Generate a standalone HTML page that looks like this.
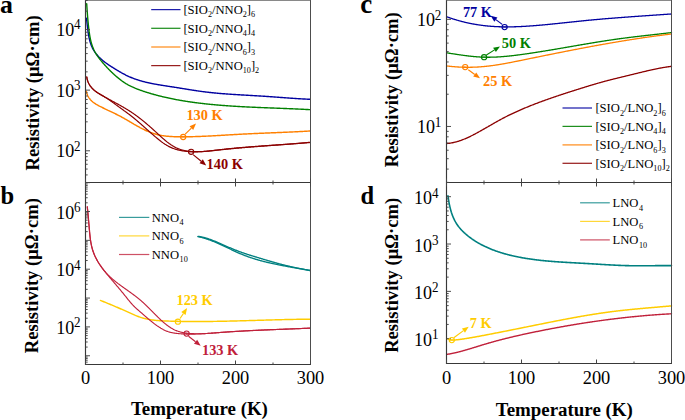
<!DOCTYPE html>
<html><head><meta charset="utf-8"><style>
html,body{margin:0;padding:0;background:#fff;width:685px;height:420px;overflow:hidden}
svg{display:block}
.s{font-family:"Liberation Serif",serif}
</style></head><body>
<svg width="685" height="420" viewBox="0 0 685 420">
<rect width="685" height="420" fill="#fff"/>
<path d="M86.43,18.17 L86.51,18.74 L86.58,19.31 L86.65,19.88 L86.72,20.46 L86.79,21.04 L86.86,21.62 L86.92,22.21 L86.99,22.80 L87.05,23.39 L87.12,23.99 L87.18,24.58 L87.25,25.18 L87.31,25.78 L87.38,26.38 L87.45,26.99 L87.52,27.59 L87.59,28.20 L87.66,28.80 L87.73,29.41 L87.81,30.02 L87.89,30.63 L87.97,31.23 L88.05,31.84 L88.14,32.45 L88.23,33.06 L88.32,33.67 L88.42,34.27 L88.52,34.88 L88.63,35.48 L88.74,36.08 L88.85,36.69 L88.97,37.28 L89.10,37.88 L89.23,38.48 L89.36,39.07 L89.51,39.66 L89.65,40.25 L89.81,40.84 L89.97,41.42 L90.14,42.00 L90.31,42.57 L90.50,43.15 L90.69,43.72 L90.88,44.28 L91.09,44.84 L91.30,45.40 L91.53,45.95 L91.76,46.50 L92.00,47.04 L92.25,47.58 L92.51,48.11 L92.78,48.64 L93.05,49.16 L93.34,49.68 L93.64,50.19 L93.95,50.69 L94.27,51.19 L94.59,51.68 L94.93,52.17 L95.28,52.65 L95.63,53.13 L95.99,53.60 L96.36,54.06 L96.74,54.52 L97.13,54.98 L97.52,55.43 L97.92,55.87 L98.33,56.31 L98.74,56.75 L99.16,57.18 L99.59,57.60 L100.02,58.02 L100.46,58.44 L100.91,58.85 L101.36,59.25 L101.81,59.65 L102.27,60.05 L102.73,60.44 L103.20,60.83 L103.68,61.21 L104.15,61.59 L104.63,61.97 L105.12,62.33 L105.60,62.70 L106.09,63.06 L106.58,63.42 L107.08,63.77 L107.58,64.12 L108.08,64.47 L108.58,64.81 L109.08,65.15 L109.59,65.48 L110.09,65.81 L110.60,66.14 L111.11,66.47 L111.62,66.80 L112.13,67.12 L112.64,67.44 L113.16,67.76 L113.67,68.08 L114.19,68.40 L114.70,68.72 L115.22,69.04 L115.74,69.35 L116.25,69.67 L116.77,69.98 L117.29,70.30 L117.81,70.61 L118.33,70.92 L118.85,71.23 L119.37,71.53 L119.89,71.84 L120.41,72.14 L120.94,72.44 L121.46,72.74 L121.99,73.03 L122.52,73.32 L123.04,73.61 L123.57,73.90 L124.10,74.18 L124.64,74.46 L125.17,74.74 L125.71,75.01 L126.24,75.28 L126.78,75.54 L127.32,75.80 L127.86,76.06 L128.41,76.31 L128.95,76.56 L129.50,76.80 L130.04,77.04 L130.59,77.27 L131.15,77.50 L131.70,77.73 L132.25,77.95 L132.81,78.16 L133.37,78.38 L133.93,78.59 L134.49,78.79 L135.05,79.00 L135.61,79.19 L136.17,79.39 L136.74,79.58 L137.31,79.77 L137.88,79.95 L138.45,80.13 L139.02,80.31 L139.59,80.48 L140.16,80.65 L140.74,80.82 L141.31,80.98 L141.89,81.15 L142.47,81.31 L143.04,81.46 L143.62,81.61 L144.20,81.76 L144.79,81.91 L145.37,82.06 L145.95,82.20 L146.54,82.34 L147.12,82.48 L147.71,82.61 L148.29,82.74 L148.88,82.87 L149.47,83.00 L150.06,83.13 L150.65,83.25 L151.24,83.37 L151.83,83.49 L152.42,83.61 L153.02,83.73 L153.61,83.84 L154.20,83.95 L154.80,84.07 L155.39,84.18 L155.99,84.28 L156.58,84.39 L157.18,84.50 L157.78,84.60 L158.37,84.70 L158.97,84.80 L159.57,84.90 L160.17,85.00 L160.76,85.10 L161.36,85.20 L161.96,85.30 L162.56,85.39 L163.16,85.49 L163.76,85.58 L164.36,85.68 L164.96,85.77 L165.56,85.86 L166.16,85.95 L166.76,86.05 L167.35,86.14 L167.95,86.23 L168.55,86.32 L169.15,86.41 L169.75,86.50 L170.35,86.59 L170.95,86.69 L171.55,86.78 L172.15,86.87 L172.75,86.96 L173.34,87.05 L173.94,87.15 L174.54,87.24 L175.14,87.33 L175.73,87.43 L176.33,87.52 L176.93,87.62 L177.52,87.71 L178.12,87.81 L178.71,87.90 L179.31,88.00 L179.90,88.10 L180.50,88.19 L181.09,88.29 L181.69,88.39 L182.28,88.48 L182.88,88.58 L183.47,88.68 L184.06,88.77 L184.66,88.87 L185.25,88.97 L185.84,89.06 L186.44,89.16 L187.03,89.26 L187.62,89.35 L188.22,89.45 L188.81,89.54 L189.40,89.64 L190.00,89.73 L190.59,89.83 L191.18,89.92 L191.77,90.02 L192.37,90.11 L192.96,90.20 L193.55,90.29 L194.15,90.38 L194.74,90.47 L195.33,90.56 L195.93,90.65 L196.52,90.74 L197.11,90.83 L197.71,90.92 L198.30,91.00 L198.89,91.09 L199.49,91.17 L200.08,91.26 L200.68,91.34 L201.27,91.42 L201.86,91.50 L202.46,91.58 L203.05,91.66 L203.65,91.73 L204.25,91.81 L204.84,91.88 L205.44,91.96 L206.03,92.03 L206.63,92.10 L207.23,92.17 L207.82,92.24 L208.42,92.31 L209.02,92.37 L209.61,92.44 L210.21,92.51 L210.81,92.57 L211.41,92.63 L212.01,92.70 L212.60,92.76 L213.20,92.82 L213.80,92.88 L214.40,92.94 L215.00,92.99 L215.60,93.05 L216.20,93.11 L216.80,93.16 L217.40,93.22 L218.00,93.27 L218.60,93.33 L219.20,93.38 L219.80,93.43 L220.40,93.48 L221.00,93.53 L221.60,93.58 L222.20,93.63 L222.80,93.68 L223.40,93.72 L224.00,93.77 L224.60,93.82 L225.20,93.86 L225.80,93.91 L226.41,93.95 L227.01,94.00 L227.61,94.04 L228.21,94.08 L228.81,94.13 L229.41,94.17 L230.02,94.21 L230.62,94.25 L231.22,94.29 L231.82,94.33 L232.42,94.37 L233.03,94.41 L233.63,94.45 L234.23,94.49 L234.83,94.53 L235.44,94.56 L236.04,94.60 L236.64,94.64 L237.24,94.67 L237.85,94.71 L238.45,94.75 L239.05,94.78 L239.65,94.82 L240.26,94.86 L240.86,94.89 L241.46,94.93 L242.07,94.96 L242.67,95.00 L243.27,95.03 L243.87,95.07 L244.48,95.10 L245.08,95.14 L245.68,95.17 L246.29,95.20 L246.89,95.24 L247.49,95.27 L248.09,95.31 L248.70,95.34 L249.30,95.38 L249.90,95.41 L250.51,95.44 L251.11,95.48 L251.71,95.51 L252.31,95.55 L252.92,95.58 L253.52,95.62 L254.12,95.65 L254.72,95.69 L255.33,95.72 L255.93,95.76 L256.53,95.79 L257.13,95.83 L257.73,95.87 L258.34,95.90 L258.94,95.94 L259.54,95.97 L260.14,96.01 L260.74,96.05 L261.34,96.09 L261.95,96.13 L262.55,96.16 L263.15,96.20 L263.75,96.24 L264.35,96.28 L264.95,96.32 L265.55,96.36 L266.15,96.40 L266.75,96.44 L267.35,96.48 L267.95,96.53 L268.55,96.57 L269.15,96.61 L269.75,96.65 L270.35,96.69 L270.95,96.74 L271.55,96.78 L272.15,96.82 L272.75,96.87 L273.35,96.91 L273.95,96.95 L274.55,97.00 L275.15,97.04 L275.75,97.09 L276.35,97.13 L276.95,97.17 L277.55,97.22 L278.15,97.26 L278.75,97.31 L279.35,97.35 L279.95,97.40 L280.55,97.44 L281.15,97.48 L281.75,97.53 L282.35,97.57 L282.95,97.62 L283.55,97.66 L284.15,97.71 L284.75,97.75 L285.35,97.79 L285.95,97.84 L286.55,97.88 L287.15,97.92 L287.74,97.97 L288.34,98.01 L288.94,98.05 L289.54,98.09 L290.14,98.14 L290.74,98.18 L291.34,98.22 L291.95,98.26 L292.55,98.30 L293.15,98.34 L293.75,98.38 L294.35,98.42 L294.95,98.46 L295.55,98.50 L296.15,98.54 L296.75,98.58 L297.35,98.62 L297.95,98.65 L298.55,98.69 L299.15,98.73 L299.76,98.76 L300.36,98.80 L300.96,98.83 L301.56,98.87 L302.16,98.90 L302.77,98.93 L303.37,98.97 L303.97,99.00 L304.57,99.03 L305.18,99.06 L305.78,99.09 L306.38,99.12 L306.99,99.15 L307.59,99.18 L308.19,99.21 L308.80,99.23 L309.40,99.26 L310.00,99.28" fill="none" stroke="#0000a0" stroke-width="1.40" stroke-linejoin="round" stroke-linecap="round" />
<path d="M86.70,3.81 L86.74,4.41 L86.77,5.01 L86.81,5.61 L86.85,6.22 L86.89,6.82 L86.93,7.42 L86.97,8.02 L87.01,8.62 L87.05,9.21 L87.09,9.81 L87.13,10.41 L87.17,11.01 L87.21,11.61 L87.26,12.20 L87.30,12.80 L87.35,13.40 L87.39,14.00 L87.44,14.59 L87.49,15.19 L87.53,15.79 L87.58,16.38 L87.63,16.98 L87.68,17.58 L87.73,18.17 L87.79,18.77 L87.84,19.37 L87.89,19.96 L87.95,20.56 L88.00,21.16 L88.06,21.76 L88.12,22.36 L88.18,22.95 L88.24,23.55 L88.30,24.15 L88.36,24.75 L88.43,25.35 L88.49,25.95 L88.56,26.55 L88.63,27.15 L88.69,27.76 L88.76,28.36 L88.83,28.96 L88.91,29.57 L88.98,30.17 L89.06,30.77 L89.13,31.38 L89.22,31.98 L89.30,32.59 L89.38,33.19 L89.47,33.80 L89.56,34.40 L89.66,35.00 L89.75,35.60 L89.86,36.20 L89.96,36.80 L90.07,37.40 L90.19,38.00 L90.30,38.59 L90.43,39.19 L90.56,39.78 L90.69,40.37 L90.83,40.96 L90.97,41.54 L91.12,42.12 L91.28,42.71 L91.44,43.28 L91.61,43.86 L91.79,44.43 L91.97,45.00 L92.16,45.57 L92.36,46.13 L92.56,46.69 L92.77,47.24 L92.99,47.79 L93.22,48.34 L93.45,48.89 L93.70,49.42 L93.95,49.96 L94.21,50.49 L94.48,51.02 L94.76,51.54 L95.04,52.06 L95.34,52.58 L95.64,53.09 L95.94,53.60 L96.26,54.10 L96.58,54.60 L96.90,55.10 L97.23,55.60 L97.57,56.09 L97.91,56.58 L98.26,57.06 L98.62,57.55 L98.98,58.03 L99.34,58.51 L99.71,58.98 L100.08,59.46 L100.45,59.93 L100.83,60.40 L101.21,60.87 L101.60,61.33 L101.99,61.79 L102.38,62.26 L102.77,62.72 L103.17,63.18 L103.56,63.63 L103.96,64.09 L104.36,64.54 L104.77,65.00 L105.17,65.45 L105.58,65.90 L105.99,66.35 L106.40,66.80 L106.81,67.24 L107.22,67.69 L107.64,68.13 L108.06,68.57 L108.47,69.01 L108.90,69.44 L109.32,69.88 L109.74,70.31 L110.17,70.74 L110.60,71.17 L111.03,71.59 L111.47,72.01 L111.90,72.43 L112.34,72.85 L112.78,73.27 L113.22,73.68 L113.66,74.09 L114.11,74.50 L114.56,74.90 L115.00,75.30 L115.46,75.70 L115.91,76.10 L116.37,76.49 L116.83,76.88 L117.29,77.27 L117.75,77.65 L118.21,78.03 L118.68,78.41 L119.15,78.78 L119.62,79.15 L120.10,79.52 L120.57,79.88 L121.05,80.24 L121.53,80.60 L122.02,80.95 L122.50,81.30 L122.99,81.64 L123.48,81.98 L123.98,82.32 L124.47,82.65 L124.97,82.97 L125.48,83.29 L125.98,83.61 L126.49,83.92 L127.01,84.22 L127.52,84.52 L128.04,84.82 L128.56,85.10 L129.09,85.39 L129.62,85.66 L130.15,85.94 L130.68,86.20 L131.22,86.47 L131.76,86.72 L132.30,86.98 L132.85,87.22 L133.40,87.47 L133.95,87.71 L134.50,87.94 L135.05,88.18 L135.61,88.40 L136.17,88.63 L136.73,88.85 L137.29,89.07 L137.85,89.28 L138.42,89.50 L138.99,89.70 L139.55,89.91 L140.12,90.12 L140.69,90.32 L141.26,90.52 L141.83,90.71 L142.40,90.91 L142.98,91.10 L143.55,91.30 L144.12,91.49 L144.70,91.67 L145.27,91.86 L145.85,92.05 L146.42,92.23 L147.00,92.41 L147.58,92.59 L148.16,92.77 L148.73,92.95 L149.31,93.12 L149.89,93.29 L150.47,93.47 L151.05,93.64 L151.63,93.80 L152.21,93.97 L152.79,94.14 L153.38,94.30 L153.96,94.46 L154.54,94.62 L155.12,94.78 L155.71,94.94 L156.29,95.10 L156.87,95.25 L157.46,95.40 L158.04,95.56 L158.63,95.71 L159.21,95.85 L159.80,96.00 L160.38,96.15 L160.97,96.29 L161.55,96.44 L162.14,96.58 L162.72,96.72 L163.31,96.86 L163.90,97.00 L164.48,97.13 L165.07,97.27 L165.66,97.40 L166.25,97.54 L166.83,97.67 L167.42,97.80 L168.01,97.93 L168.60,98.05 L169.19,98.18 L169.78,98.30 L170.36,98.43 L170.95,98.55 L171.54,98.67 L172.13,98.79 L172.72,98.91 L173.31,99.03 L173.90,99.14 L174.50,99.26 L175.09,99.37 L175.68,99.49 L176.27,99.60 L176.86,99.71 L177.45,99.82 L178.04,99.93 L178.64,100.03 L179.23,100.14 L179.82,100.24 L180.41,100.35 L181.01,100.45 L181.60,100.55 L182.19,100.65 L182.78,100.75 L183.38,100.85 L183.97,100.95 L184.56,101.04 L185.16,101.14 L185.75,101.23 L186.35,101.33 L186.94,101.42 L187.54,101.51 L188.13,101.60 L188.73,101.69 L189.32,101.78 L189.92,101.86 L190.51,101.95 L191.11,102.04 L191.70,102.12 L192.30,102.20 L192.89,102.29 L193.49,102.37 L194.08,102.45 L194.68,102.53 L195.28,102.61 L195.87,102.69 L196.47,102.76 L197.07,102.84 L197.66,102.92 L198.26,102.99 L198.86,103.07 L199.45,103.14 L200.05,103.21 L200.65,103.28 L201.25,103.35 L201.84,103.42 L202.44,103.49 L203.04,103.56 L203.64,103.63 L204.23,103.70 L204.83,103.76 L205.43,103.83 L206.03,103.89 L206.63,103.96 L207.22,104.02 L207.82,104.08 L208.42,104.15 L209.02,104.21 L209.62,104.27 L210.22,104.33 L210.81,104.39 L211.41,104.44 L212.01,104.50 L212.61,104.56 L213.21,104.62 L213.81,104.67 L214.41,104.73 L215.01,104.78 L215.61,104.84 L216.20,104.89 L216.80,104.94 L217.40,104.99 L218.00,105.05 L218.60,105.10 L219.20,105.15 L219.80,105.20 L220.40,105.25 L221.00,105.29 L221.60,105.34 L222.20,105.39 L222.80,105.44 L223.40,105.48 L224.00,105.53 L224.60,105.57 L225.20,105.62 L225.80,105.66 L226.40,105.71 L227.00,105.75 L227.60,105.79 L228.20,105.83 L228.80,105.88 L229.40,105.92 L230.00,105.96 L230.61,106.00 L231.21,106.04 L231.81,106.08 L232.41,106.12 L233.01,106.16 L233.61,106.19 L234.21,106.23 L234.81,106.27 L235.41,106.30 L236.01,106.34 L236.61,106.38 L237.22,106.41 L237.82,106.45 L238.42,106.48 L239.02,106.52 L239.62,106.55 L240.22,106.58 L240.82,106.62 L241.42,106.65 L242.03,106.68 L242.63,106.72 L243.23,106.75 L243.83,106.78 L244.43,106.81 L245.03,106.84 L245.64,106.87 L246.24,106.90 L246.84,106.93 L247.44,106.96 L248.04,106.99 L248.64,107.02 L249.25,107.05 L249.85,107.08 L250.45,107.11 L251.05,107.13 L251.65,107.16 L252.25,107.19 L252.86,107.22 L253.46,107.24 L254.06,107.27 L254.66,107.30 L255.26,107.32 L255.87,107.35 L256.47,107.38 L257.07,107.40 L257.67,107.43 L258.27,107.45 L258.88,107.48 L259.48,107.50 L260.08,107.53 L260.68,107.55 L261.28,107.58 L261.89,107.60 L262.49,107.63 L263.09,107.65 L263.69,107.67 L264.29,107.70 L264.90,107.72 L265.50,107.75 L266.10,107.77 L266.70,107.79 L267.30,107.82 L267.91,107.84 L268.51,107.86 L269.11,107.89 L269.71,107.91 L270.31,107.93 L270.92,107.96 L271.52,107.98 L272.12,108.00 L272.72,108.03 L273.32,108.05 L273.93,108.07 L274.53,108.09 L275.13,108.12 L275.73,108.14 L276.33,108.16 L276.94,108.19 L277.54,108.21 L278.14,108.23 L278.74,108.26 L279.34,108.28 L279.94,108.30 L280.55,108.33 L281.15,108.35 L281.75,108.37 L282.35,108.40 L282.95,108.42 L283.55,108.44 L284.16,108.47 L284.76,108.49 L285.36,108.51 L285.96,108.54 L286.56,108.56 L287.16,108.59 L287.77,108.61 L288.37,108.64 L288.97,108.66 L289.57,108.68 L290.17,108.71 L290.77,108.73 L291.37,108.76 L291.97,108.79 L292.58,108.81 L293.18,108.84 L293.78,108.86 L294.38,108.89 L294.98,108.92 L295.58,108.94 L296.18,108.97 L296.78,109.00 L297.38,109.02 L297.98,109.05 L298.58,109.08 L299.19,109.11 L299.79,109.13 L300.39,109.16 L300.99,109.19 L301.59,109.22 L302.19,109.25 L302.79,109.28 L303.39,109.31 L303.99,109.34 L304.59,109.37 L305.19,109.40 L305.79,109.43 L306.39,109.46 L306.99,109.50 L307.59,109.53 L308.19,109.56 L308.79,109.59 L309.39,109.63 L309.99,109.66" fill="none" stroke="#008000" stroke-width="1.40" stroke-linejoin="round" stroke-linecap="round" />
<path d="M86.43,91.35 L86.55,91.98 L86.69,92.60 L86.85,93.21 L87.03,93.80 L87.23,94.39 L87.46,94.95 L87.70,95.51 L87.96,96.05 L88.25,96.58 L88.55,97.09 L88.86,97.60 L89.20,98.09 L89.55,98.57 L89.91,99.03 L90.29,99.49 L90.69,99.93 L91.10,100.36 L91.52,100.77 L91.95,101.18 L92.40,101.57 L92.85,101.95 L93.32,102.32 L93.80,102.68 L94.28,103.03 L94.78,103.36 L95.28,103.69 L95.79,104.02 L96.30,104.33 L96.82,104.64 L97.35,104.94 L97.87,105.24 L98.41,105.53 L98.94,105.82 L99.48,106.10 L100.01,106.38 L100.55,106.65 L101.09,106.93 L101.63,107.20 L102.17,107.47 L102.71,107.74 L103.25,108.00 L103.79,108.27 L104.33,108.53 L104.88,108.79 L105.42,109.05 L105.96,109.31 L106.50,109.57 L107.05,109.83 L107.59,110.09 L108.13,110.35 L108.68,110.60 L109.22,110.86 L109.76,111.12 L110.31,111.38 L110.85,111.64 L111.39,111.89 L111.94,112.15 L112.48,112.41 L113.02,112.67 L113.56,112.93 L114.10,113.20 L114.64,113.46 L115.18,113.72 L115.72,113.99 L116.26,114.25 L116.80,114.52 L117.34,114.79 L117.87,115.06 L118.41,115.33 L118.94,115.61 L119.48,115.89 L120.01,116.16 L120.54,116.45 L121.07,116.73 L121.60,117.01 L122.13,117.30 L122.66,117.59 L123.18,117.88 L123.71,118.18 L124.23,118.47 L124.76,118.77 L125.28,119.07 L125.80,119.37 L126.32,119.67 L126.84,119.97 L127.37,120.28 L127.89,120.58 L128.41,120.89 L128.93,121.20 L129.45,121.50 L129.97,121.81 L130.49,122.12 L131.01,122.42 L131.53,122.73 L132.05,123.04 L132.57,123.34 L133.09,123.65 L133.61,123.95 L134.13,124.26 L134.66,124.56 L135.18,124.86 L135.70,125.17 L136.23,125.47 L136.76,125.76 L137.28,126.06 L137.81,126.36 L138.34,126.65 L138.87,126.94 L139.40,127.23 L139.93,127.52 L140.47,127.80 L141.00,128.08 L141.54,128.36 L142.07,128.64 L142.61,128.91 L143.15,129.18 L143.69,129.45 L144.23,129.71 L144.78,129.97 L145.32,130.23 L145.87,130.48 L146.42,130.73 L146.97,130.97 L147.52,131.21 L148.07,131.45 L148.62,131.68 L149.18,131.91 L149.73,132.13 L150.29,132.35 L150.85,132.56 L151.42,132.77 L151.98,132.97 L152.55,133.17 L153.11,133.36 L153.68,133.55 L154.26,133.73 L154.83,133.90 L155.41,134.07 L155.98,134.23 L156.56,134.39 L157.15,134.54 L157.73,134.68 L158.32,134.82 L158.90,134.95 L159.49,135.07 L160.08,135.19 L160.68,135.31 L161.27,135.41 L161.87,135.52 L162.46,135.61 L163.06,135.71 L163.66,135.79 L164.26,135.88 L164.86,135.95 L165.47,136.03 L166.07,136.10 L166.67,136.16 L167.28,136.22 L167.88,136.28 L168.49,136.33 L169.09,136.38 L169.70,136.43 L170.30,136.47 L170.91,136.51 L171.51,136.54 L172.12,136.58 L172.72,136.61 L173.33,136.63 L173.93,136.66 L174.54,136.68 L175.14,136.70 L175.74,136.72 L176.35,136.74 L176.95,136.75 L177.55,136.76 L178.15,136.77 L178.75,136.78 L179.35,136.79 L179.96,136.80 L180.56,136.80 L181.16,136.80 L181.76,136.80 L182.36,136.80 L182.96,136.80 L183.56,136.80 L184.16,136.80 L184.76,136.80 L185.36,136.79 L185.97,136.79 L186.57,136.78 L187.17,136.77 L187.77,136.76 L188.37,136.75 L188.97,136.75 L189.57,136.73 L190.17,136.72 L190.78,136.71 L191.38,136.70 L191.98,136.68 L192.58,136.67 L193.18,136.65 L193.78,136.64 L194.39,136.62 L194.99,136.60 L195.59,136.59 L196.19,136.57 L196.79,136.55 L197.39,136.53 L198.00,136.51 L198.60,136.48 L199.20,136.46 L199.80,136.44 L200.40,136.42 L201.01,136.39 L201.61,136.37 L202.21,136.34 L202.81,136.32 L203.41,136.29 L204.02,136.26 L204.62,136.24 L205.22,136.21 L205.82,136.18 L206.42,136.15 L207.03,136.13 L207.63,136.10 L208.23,136.07 L208.83,136.04 L209.44,136.01 L210.04,135.97 L210.64,135.94 L211.24,135.91 L211.84,135.88 L212.45,135.85 L213.05,135.81 L213.65,135.78 L214.25,135.75 L214.86,135.72 L215.46,135.68 L216.06,135.65 L216.66,135.61 L217.27,135.58 L217.87,135.55 L218.47,135.51 L219.07,135.48 L219.68,135.44 L220.28,135.41 L220.88,135.37 L221.48,135.33 L222.09,135.30 L222.69,135.26 L223.29,135.23 L223.89,135.19 L224.50,135.16 L225.10,135.12 L225.70,135.08 L226.30,135.05 L226.90,135.01 L227.51,134.98 L228.11,134.94 L228.71,134.90 L229.31,134.87 L229.92,134.83 L230.52,134.80 L231.12,134.76 L231.72,134.73 L232.33,134.69 L232.93,134.66 L233.53,134.62 L234.13,134.59 L234.74,134.55 L235.34,134.52 L235.94,134.48 L236.54,134.45 L237.15,134.41 L237.75,134.38 L238.35,134.35 L238.95,134.31 L239.55,134.28 L240.16,134.25 L240.76,134.22 L241.36,134.19 L241.96,134.15 L242.57,134.12 L243.17,134.09 L243.77,134.06 L244.37,134.03 L244.97,134.00 L245.58,133.97 L246.18,133.94 L246.78,133.91 L247.38,133.88 L247.98,133.85 L248.59,133.82 L249.19,133.79 L249.79,133.77 L250.39,133.74 L250.99,133.71 L251.60,133.68 L252.20,133.65 L252.80,133.63 L253.40,133.60 L254.00,133.57 L254.61,133.55 L255.21,133.52 L255.81,133.49 L256.41,133.47 L257.01,133.44 L257.62,133.41 L258.22,133.39 L258.82,133.36 L259.42,133.34 L260.02,133.31 L260.63,133.29 L261.23,133.26 L261.83,133.23 L262.43,133.21 L263.03,133.18 L263.63,133.16 L264.24,133.13 L264.84,133.11 L265.44,133.08 L266.04,133.06 L266.64,133.04 L267.25,133.01 L267.85,132.99 L268.45,132.96 L269.05,132.94 L269.65,132.91 L270.26,132.89 L270.86,132.86 L271.46,132.84 L272.06,132.81 L272.66,132.79 L273.26,132.76 L273.87,132.74 L274.47,132.71 L275.07,132.69 L275.67,132.67 L276.27,132.64 L276.88,132.62 L277.48,132.59 L278.08,132.57 L278.68,132.54 L279.28,132.52 L279.89,132.49 L280.49,132.47 L281.09,132.44 L281.69,132.41 L282.29,132.39 L282.90,132.36 L283.50,132.34 L284.10,132.31 L284.70,132.29 L285.30,132.26 L285.91,132.23 L286.51,132.21 L287.11,132.18 L287.71,132.15 L288.31,132.13 L288.92,132.10 L289.52,132.07 L290.12,132.04 L290.72,132.02 L291.32,131.99 L291.93,131.96 L292.53,131.93 L293.13,131.90 L293.73,131.88 L294.34,131.85 L294.94,131.82 L295.54,131.79 L296.14,131.76 L296.74,131.73 L297.35,131.70 L297.95,131.67 L298.55,131.64 L299.15,131.61 L299.76,131.58 L300.36,131.54 L300.96,131.51 L301.56,131.48 L302.17,131.45 L302.77,131.41 L303.37,131.38 L303.97,131.35 L304.58,131.31 L305.18,131.28 L305.78,131.25 L306.38,131.21 L306.99,131.18 L307.59,131.14 L308.19,131.11 L308.79,131.07 L309.40,131.03 L310.00,131.00" fill="none" stroke="#ff8000" stroke-width="1.45" stroke-linejoin="round" stroke-linecap="round" />
<path d="M86.77,76.96 L86.87,77.62 L86.98,78.27 L87.12,78.90 L87.27,79.52 L87.45,80.13 L87.64,80.73 L87.84,81.31 L88.07,81.89 L88.31,82.45 L88.56,83.00 L88.83,83.53 L89.12,84.06 L89.42,84.58 L89.73,85.08 L90.06,85.58 L90.40,86.06 L90.75,86.53 L91.12,86.99 L91.49,87.45 L91.88,87.89 L92.28,88.32 L92.69,88.75 L93.11,89.16 L93.53,89.57 L93.97,89.97 L94.42,90.35 L94.87,90.73 L95.33,91.10 L95.80,91.47 L96.28,91.82 L96.76,92.17 L97.25,92.52 L97.74,92.85 L98.24,93.19 L98.74,93.51 L99.25,93.83 L99.77,94.15 L100.28,94.46 L100.80,94.77 L101.32,95.08 L101.85,95.38 L102.38,95.68 L102.91,95.98 L103.44,96.28 L103.97,96.57 L104.50,96.87 L105.03,97.16 L105.56,97.45 L106.09,97.75 L106.63,98.04 L107.16,98.33 L107.69,98.62 L108.23,98.91 L108.76,99.20 L109.29,99.49 L109.83,99.77 L110.36,100.06 L110.89,100.35 L111.43,100.64 L111.96,100.93 L112.49,101.21 L113.02,101.50 L113.56,101.79 L114.09,102.08 L114.62,102.37 L115.15,102.66 L115.68,102.95 L116.21,103.24 L116.74,103.53 L117.27,103.82 L117.80,104.11 L118.33,104.40 L118.86,104.69 L119.39,104.99 L119.91,105.28 L120.44,105.58 L120.96,105.87 L121.49,106.17 L122.01,106.47 L122.53,106.77 L123.05,107.07 L123.57,107.37 L124.09,107.68 L124.61,107.98 L125.13,108.29 L125.64,108.60 L126.16,108.91 L126.67,109.22 L127.18,109.53 L127.69,109.85 L128.20,110.16 L128.71,110.48 L129.22,110.80 L129.72,111.12 L130.22,111.45 L130.73,111.78 L131.23,112.10 L131.72,112.44 L132.22,112.77 L132.72,113.10 L133.21,113.44 L133.70,113.78 L134.19,114.13 L134.68,114.47 L135.17,114.82 L135.66,115.17 L136.14,115.52 L136.62,115.87 L137.10,116.22 L137.59,116.58 L138.06,116.94 L138.54,117.30 L139.02,117.66 L139.49,118.03 L139.97,118.40 L140.44,118.76 L140.91,119.13 L141.38,119.51 L141.85,119.88 L142.32,120.25 L142.79,120.63 L143.26,121.01 L143.72,121.39 L144.19,121.77 L144.65,122.15 L145.11,122.54 L145.58,122.93 L146.04,123.31 L146.50,123.70 L146.96,124.09 L147.42,124.48 L147.87,124.88 L148.33,125.27 L148.79,125.67 L149.25,126.07 L149.70,126.46 L150.16,126.86 L150.61,127.27 L151.06,127.67 L151.52,128.07 L151.97,128.47 L152.42,128.88 L152.88,129.29 L153.33,129.69 L153.78,130.10 L154.23,130.51 L154.68,130.92 L155.13,131.33 L155.58,131.75 L156.04,132.16 L156.49,132.57 L156.94,132.99 L157.39,133.40 L157.84,133.82 L158.29,134.23 L158.74,134.65 L159.19,135.07 L159.64,135.48 L160.09,135.89 L160.54,136.31 L161.00,136.72 L161.45,137.13 L161.91,137.54 L162.36,137.95 L162.82,138.35 L163.28,138.75 L163.74,139.15 L164.20,139.55 L164.67,139.95 L165.13,140.34 L165.60,140.72 L166.07,141.11 L166.54,141.49 L167.01,141.87 L167.49,142.24 L167.96,142.60 L168.44,142.97 L168.93,143.32 L169.41,143.68 L169.90,144.02 L170.39,144.36 L170.88,144.70 L171.38,145.03 L171.88,145.35 L172.38,145.66 L172.89,145.97 L173.40,146.27 L173.91,146.57 L174.42,146.86 L174.94,147.14 L175.47,147.41 L176.00,147.67 L176.53,147.92 L177.07,148.17 L177.61,148.41 L178.15,148.64 L178.70,148.85 L179.25,149.06 L179.81,149.26 L180.37,149.45 L180.94,149.63 L181.51,149.81 L182.09,149.97 L182.66,150.12 L183.25,150.27 L183.83,150.40 L184.42,150.53 L185.01,150.65 L185.60,150.77 L186.19,150.87 L186.79,150.97 L187.39,151.06 L187.99,151.15 L188.59,151.22 L189.19,151.29 L189.79,151.36 L190.39,151.42 L190.99,151.47 L191.60,151.52 L192.20,151.56 L192.80,151.59 L193.40,151.62 L194.01,151.65 L194.61,151.67 L195.21,151.68 L195.81,151.69 L196.42,151.69 L197.02,151.70 L197.62,151.69 L198.22,151.68 L198.83,151.67 L199.43,151.66 L200.03,151.63 L200.63,151.61 L201.24,151.58 L201.84,151.55 L202.44,151.52 L203.04,151.48 L203.65,151.44 L204.25,151.40 L204.85,151.35 L205.46,151.30 L206.06,151.25 L206.66,151.20 L207.26,151.14 L207.87,151.09 L208.47,151.03 L209.07,150.96 L209.67,150.90 L210.28,150.84 L210.88,150.77 L211.48,150.70 L212.08,150.63 L212.68,150.56 L213.29,150.49 L213.89,150.42 L214.49,150.35 L215.09,150.28 L215.69,150.21 L216.30,150.13 L216.90,150.06 L217.50,149.99 L218.10,149.92 L218.70,149.85 L219.31,149.78 L219.91,149.70 L220.51,149.63 L221.11,149.57 L221.71,149.50 L222.31,149.43 L222.91,149.36 L223.52,149.29 L224.12,149.23 L224.72,149.16 L225.32,149.10 L225.92,149.03 L226.52,148.97 L227.12,148.91 L227.72,148.84 L228.32,148.78 L228.92,148.72 L229.52,148.66 L230.13,148.60 L230.73,148.54 L231.33,148.48 L231.93,148.42 L232.53,148.36 L233.13,148.31 L233.73,148.25 L234.33,148.19 L234.93,148.14 L235.53,148.08 L236.13,148.02 L236.73,147.97 L237.33,147.91 L237.93,147.86 L238.53,147.81 L239.13,147.75 L239.73,147.70 L240.33,147.65 L240.93,147.60 L241.53,147.54 L242.13,147.49 L242.73,147.44 L243.33,147.39 L243.93,147.34 L244.53,147.29 L245.13,147.24 L245.73,147.19 L246.33,147.15 L246.93,147.10 L247.53,147.05 L248.13,147.00 L248.73,146.95 L249.33,146.91 L249.93,146.86 L250.53,146.81 L251.13,146.77 L251.73,146.72 L252.33,146.67 L252.93,146.63 L253.53,146.58 L254.13,146.54 L254.73,146.49 L255.33,146.45 L255.93,146.40 L256.53,146.36 L257.12,146.32 L257.72,146.27 L258.32,146.23 L258.92,146.18 L259.52,146.14 L260.12,146.10 L260.72,146.05 L261.32,146.01 L261.92,145.97 L262.52,145.93 L263.12,145.88 L263.72,145.84 L264.32,145.80 L264.92,145.76 L265.52,145.71 L266.12,145.67 L266.72,145.63 L267.32,145.59 L267.92,145.54 L268.52,145.50 L269.12,145.46 L269.72,145.42 L270.32,145.38 L270.92,145.34 L271.52,145.29 L272.12,145.25 L272.72,145.21 L273.32,145.17 L273.92,145.13 L274.52,145.08 L275.12,145.04 L275.72,145.00 L276.32,144.96 L276.92,144.92 L277.52,144.87 L278.12,144.83 L278.72,144.79 L279.32,144.75 L279.92,144.71 L280.52,144.66 L281.12,144.62 L281.72,144.58 L282.32,144.53 L282.92,144.49 L283.52,144.45 L284.12,144.40 L284.72,144.36 L285.32,144.32 L285.93,144.27 L286.53,144.23 L287.13,144.18 L287.73,144.14 L288.33,144.10 L288.93,144.05 L289.53,144.01 L290.13,143.96 L290.73,143.91 L291.33,143.87 L291.93,143.82 L292.54,143.78 L293.14,143.73 L293.74,143.68 L294.34,143.64 L294.94,143.59 L295.54,143.54 L296.15,143.49 L296.75,143.44 L297.35,143.40 L297.95,143.35 L298.55,143.30 L299.15,143.25 L299.76,143.20 L300.36,143.15 L300.96,143.10 L301.56,143.04 L302.17,142.99 L302.77,142.94 L303.37,142.89 L303.97,142.84 L304.58,142.78 L305.18,142.73 L305.78,142.68 L306.38,142.62 L306.99,142.57 L307.59,142.51 L308.19,142.45 L308.80,142.40 L309.40,142.34 L310.00,142.28" fill="none" stroke="#8b0000" stroke-width="1.20" stroke-linejoin="round" stroke-linecap="round" />
<path d="M86.79,76.99 L86.89,77.63 L87.00,78.26 L87.14,78.88 L87.29,79.48 L87.46,80.08 L87.64,80.67 L87.84,81.25 L88.06,81.83 L88.29,82.39 L88.54,82.94 L88.81,83.48 L89.09,84.01 L89.38,84.53 L89.69,85.04 L90.01,85.55 L90.34,86.04 L90.69,86.52 L91.05,86.99 L91.43,87.45 L91.81,87.90 L92.21,88.34 L92.62,88.76 L93.04,89.18 L93.47,89.59 L93.91,89.98 L94.37,90.37 L94.83,90.74 L95.30,91.11 L95.78,91.46 L96.26,91.81 L96.76,92.15 L97.26,92.48 L97.76,92.81 L98.27,93.13 L98.79,93.44 L99.31,93.75 L99.83,94.06 L100.35,94.37 L100.87,94.67 L101.40,94.98 L101.93,95.28 L102.45,95.59 L102.97,95.89 L103.49,96.20 L104.01,96.51 L104.53,96.82 L105.04,97.14 L105.55,97.45 L106.06,97.78 L106.56,98.10 L107.06,98.43 L107.56,98.76 L108.06,99.09 L108.55,99.43 L109.05,99.77 L109.54,100.11 L110.03,100.45 L110.51,100.79 L111.00,101.14 L111.49,101.48 L111.97,101.83 L112.45,102.18 L112.93,102.53 L113.42,102.88 L113.90,103.23 L114.38,103.58 L114.86,103.94 L115.34,104.29 L115.82,104.64 L116.30,105.00 L116.79,105.35 L117.27,105.71 L117.75,106.06 L118.24,106.41 L118.72,106.77 L119.21,107.12 L119.69,107.47 L120.18,107.82 L120.67,108.18 L121.16,108.53 L121.64,108.88 L122.13,109.23 L122.62,109.59 L123.11,109.94 L123.60,110.29 L124.08,110.65 L124.57,111.00 L125.06,111.36 L125.55,111.72 L126.03,112.07 L126.52,112.43 L127.00,112.79 L127.49,113.15 L127.97,113.51 L128.45,113.87 L128.93,114.24 L129.41,114.60 L129.89,114.97 L130.37,115.33 L130.85,115.70 L131.32,116.07 L131.80,116.45 L132.27,116.82 L132.74,117.20 L133.20,117.57 L133.67,117.95 L134.14,118.33 L134.60,118.71 L135.07,119.09 L135.53,119.48 L135.99,119.86 L136.45,120.25 L136.91,120.64 L137.36,121.03 L137.82,121.42 L138.28,121.81 L138.73,122.20 L139.18,122.59 L139.64,122.98 L140.09,123.38 L140.54,123.77 L140.99,124.17 L141.44,124.56 L141.89,124.96 L142.34,125.36 L142.79,125.76 L143.24,126.15 L143.69,126.55 L144.14,126.95 L144.59,127.35 L145.04,127.75 L145.49,128.15 L145.93,128.55 L146.38,128.95 L146.83,129.35 L147.28,129.75 L147.73,130.15 L148.18,130.55 L148.63,130.94 L149.08,131.34 L149.53,131.74 L149.98,132.14 L150.43,132.54 L150.88,132.94 L151.33,133.33 L151.79,133.73 L152.24,134.13 L152.70,134.52 L153.15,134.91 L153.61,135.31 L154.07,135.70 L154.52,136.09 L154.98,136.49 L155.44,136.88 L155.91,137.26 L156.37,137.65 L156.83,138.04 L157.30,138.43 L157.77,138.81 L158.23,139.19 L158.70,139.57 L159.18,139.95 L159.65,140.33 L160.13,140.70 L160.60,141.07 L161.08,141.44 L161.57,141.80 L162.05,142.16 L162.54,142.51 L163.03,142.87 L163.52,143.21 L164.02,143.55 L164.52,143.89 L165.02,144.22 L165.53,144.54 L166.04,144.86 L166.55,145.17 L167.07,145.48 L167.59,145.78 L168.11,146.07 L168.64,146.36 L169.17,146.63 L169.71,146.90 L170.25,147.17 L170.80,147.42 L171.35,147.66 L171.90,147.90 L172.46,148.12 L173.02,148.34 L173.59,148.55 L174.16,148.75 L174.74,148.95 L175.31,149.13 L175.89,149.31 L176.47,149.48 L177.05,149.64 L177.63,149.80 L178.21,149.95 L178.80,150.09 L179.38,150.23 L179.97,150.36 L180.55,150.48 L181.14,150.60 L181.73,150.71 L182.31,150.82 L182.90,150.92 L183.49,151.01 L184.08,151.10 L184.67,151.18 L185.26,151.26 L185.85,151.33 L186.44,151.40 L187.04,151.46 L187.63,151.51 L188.22,151.56 L188.82,151.61 L189.41,151.65 L190.01,151.69 L190.60,151.72 L191.20,151.75 L191.79,151.77 L192.39,151.79 L192.99,151.81 L193.58,151.82 L194.18,151.83 L194.78,151.83 L195.38,151.83 L195.98,151.82 L196.58,151.82 L197.18,151.81 L197.78,151.79 L198.38,151.77 L198.98,151.75 L199.58,151.73 L200.18,151.70 L200.78,151.67 L201.39,151.64 L201.99,151.61 L202.59,151.57 L203.19,151.53 L203.80,151.49 L204.40,151.45 L205.00,151.40 L205.61,151.35 L206.21,151.30 L206.81,151.25 L207.42,151.20 L208.02,151.14 L208.62,151.08 L209.23,151.03 L209.83,150.97 L210.43,150.91 L211.04,150.85 L211.64,150.78 L212.25,150.72 L212.85,150.66 L213.45,150.59 L214.06,150.53 L214.66,150.46 L215.27,150.40 L215.87,150.33 L216.47,150.26 L217.08,150.20 L217.68,150.13 L218.28,150.07 L218.89,150.00 L219.49,149.93 L220.09,149.87 L220.69,149.81 L221.30,149.74 L221.90,149.68 L222.50,149.61 L223.10,149.55 L223.70,149.49 L224.31,149.43 L224.91,149.37 L225.51,149.31 L226.11,149.25 L226.71,149.19 L227.31,149.13 L227.91,149.07 L228.51,149.01 L229.11,148.95 L229.71,148.89 L230.31,148.83 L230.91,148.78 L231.51,148.72 L232.11,148.66 L232.71,148.61 L233.31,148.55 L233.91,148.49 L234.51,148.44 L235.11,148.38 L235.71,148.33 L236.31,148.27 L236.91,148.22 L237.51,148.17 L238.11,148.11 L238.71,148.06 L239.31,148.01 L239.90,147.95 L240.50,147.90 L241.10,147.85 L241.70,147.80 L242.30,147.75 L242.90,147.70 L243.49,147.65 L244.09,147.60 L244.69,147.55 L245.29,147.50 L245.89,147.45 L246.48,147.40 L247.08,147.35 L247.68,147.30 L248.28,147.25 L248.87,147.20 L249.47,147.15 L250.07,147.10 L250.67,147.05 L251.26,147.01 L251.86,146.96 L252.46,146.91 L253.06,146.86 L253.65,146.82 L254.25,146.77 L254.85,146.72 L255.44,146.68 L256.04,146.63 L256.64,146.58 L257.24,146.54 L257.83,146.49 L258.43,146.45 L259.03,146.40 L259.62,146.36 L260.22,146.31 L260.82,146.27 L261.42,146.22 L262.01,146.17 L262.61,146.13 L263.21,146.08 L263.80,146.04 L264.40,146.00 L265.00,145.95 L265.60,145.91 L266.19,145.86 L266.79,145.82 L267.39,145.77 L267.98,145.73 L268.58,145.68 L269.18,145.64 L269.78,145.60 L270.37,145.55 L270.97,145.51 L271.57,145.46 L272.17,145.42 L272.76,145.38 L273.36,145.33 L273.96,145.29 L274.56,145.25 L275.16,145.20 L275.75,145.16 L276.35,145.11 L276.95,145.07 L277.55,145.03 L278.14,144.98 L278.74,144.94 L279.34,144.89 L279.94,144.85 L280.54,144.81 L281.14,144.76 L281.74,144.72 L282.33,144.67 L282.93,144.63 L283.53,144.58 L284.13,144.54 L284.73,144.50 L285.33,144.45 L285.93,144.41 L286.53,144.36 L287.13,144.32 L287.73,144.27 L288.33,144.23 L288.93,144.18 L289.52,144.14 L290.12,144.09 L290.73,144.04 L291.33,144.00 L291.93,143.95 L292.53,143.91 L293.13,143.86 L293.73,143.81 L294.33,143.77 L294.93,143.72 L295.53,143.67 L296.13,143.63 L296.73,143.58 L297.33,143.53 L297.94,143.49 L298.54,143.44 L299.14,143.39 L299.74,143.34 L300.35,143.29 L300.95,143.24 L301.55,143.20 L302.15,143.15 L302.76,143.10 L303.36,143.05 L303.96,143.00 L304.57,142.95 L305.17,142.90 L305.77,142.85 L306.38,142.80 L306.98,142.75 L307.59,142.70 L308.19,142.64 L308.80,142.59 L309.40,142.54 L310.01,142.49" fill="none" stroke="#8b0000" stroke-width="1.20" stroke-linejoin="round" stroke-linecap="round" />
<path d="M198.03,236.37 L198.64,236.45 L199.24,236.54 L199.84,236.63 L200.44,236.74 L201.04,236.85 L201.63,236.96 L202.22,237.09 L202.81,237.22 L203.40,237.36 L203.98,237.50 L204.57,237.65 L205.15,237.81 L205.73,237.98 L206.30,238.15 L206.88,238.32 L207.45,238.50 L208.03,238.69 L208.60,238.88 L209.17,239.07 L209.73,239.27 L210.30,239.48 L210.87,239.68 L211.43,239.90 L211.99,240.11 L212.56,240.33 L213.12,240.55 L213.68,240.78 L214.24,241.00 L214.79,241.24 L215.35,241.47 L215.91,241.70 L216.46,241.94 L217.02,242.18 L217.58,242.42 L218.13,242.66 L218.69,242.90 L219.24,243.15 L219.79,243.39 L220.35,243.64 L220.90,243.88 L221.46,244.13 L222.01,244.37 L222.56,244.62 L223.12,244.86 L223.67,245.10 L224.23,245.35 L224.78,245.59 L225.34,245.83 L225.89,246.07 L226.45,246.31 L227.01,246.55 L227.56,246.79 L228.12,247.03 L228.68,247.27 L229.23,247.50 L229.79,247.74 L230.35,247.97 L230.91,248.20 L231.47,248.44 L232.03,248.67 L232.59,248.90 L233.15,249.13 L233.71,249.35 L234.27,249.58 L234.83,249.80 L235.39,250.03 L235.95,250.25 L236.52,250.47 L237.08,250.69 L237.65,250.90 L238.21,251.12 L238.78,251.33 L239.34,251.55 L239.91,251.76 L240.48,251.97 L241.04,252.17 L241.61,252.38 L242.18,252.58 L242.75,252.78 L243.32,252.98 L243.89,253.18 L244.46,253.38 L245.04,253.57 L245.61,253.76 L246.18,253.95 L246.76,254.14 L247.33,254.33 L247.91,254.52 L248.48,254.70 L249.06,254.89 L249.64,255.07 L250.21,255.25 L250.79,255.43 L251.37,255.61 L251.95,255.79 L252.53,255.97 L253.10,256.15 L253.68,256.32 L254.26,256.50 L254.84,256.68 L255.42,256.85 L256.00,257.02 L256.58,257.20 L257.16,257.37 L257.74,257.55 L258.32,257.72 L258.90,257.89 L259.48,258.07 L260.06,258.24 L260.64,258.41 L261.22,258.59 L261.80,258.76 L262.38,258.93 L262.96,259.11 L263.54,259.28 L264.12,259.45 L264.70,259.63 L265.28,259.80 L265.87,259.97 L266.45,260.14 L267.03,260.31 L267.61,260.49 L268.19,260.66 L268.77,260.83 L269.35,261.00 L269.93,261.17 L270.51,261.34 L271.09,261.51 L271.67,261.67 L272.26,261.84 L272.84,262.01 L273.42,262.17 L274.00,262.34 L274.58,262.50 L275.17,262.67 L275.75,262.83 L276.33,262.99 L276.92,263.15 L277.50,263.31 L278.08,263.47 L278.67,263.63 L279.25,263.78 L279.84,263.94 L280.42,264.09 L281.00,264.25 L281.59,264.40 L282.18,264.55 L282.76,264.70 L283.35,264.85 L283.93,265.00 L284.52,265.14 L285.11,265.29 L285.69,265.43 L286.28,265.58 L286.87,265.72 L287.46,265.86 L288.04,266.00 L288.63,266.14 L289.22,266.28 L289.81,266.41 L290.40,266.55 L290.99,266.68 L291.58,266.82 L292.17,266.95 L292.76,267.08 L293.35,267.21 L293.94,267.34 L294.53,267.46 L295.12,267.59 L295.71,267.71 L296.31,267.84 L296.90,267.96 L297.49,268.08 L298.08,268.20 L298.68,268.32 L299.27,268.44 L299.87,268.55 L300.46,268.67 L301.05,268.78 L301.65,268.90 L302.24,269.01 L302.84,269.12 L303.44,269.23 L304.03,269.34 L304.63,269.44 L305.23,269.55 L305.82,269.65 L306.42,269.76 L307.02,269.86 L307.62,269.96 L308.21,270.06 L308.81,270.16 L309.41,270.26 L310.01,270.36" fill="none" stroke="#008080" stroke-width="1.35" stroke-linejoin="round" stroke-linecap="round" />
<path d="M198.08,236.66 L198.67,236.78 L199.26,236.91 L199.85,237.04 L200.44,237.18 L201.02,237.32 L201.60,237.47 L202.19,237.62 L202.77,237.77 L203.34,237.93 L203.92,238.10 L204.50,238.27 L205.07,238.44 L205.64,238.62 L206.22,238.80 L206.79,238.99 L207.36,239.18 L207.92,239.37 L208.49,239.57 L209.06,239.77 L209.62,239.97 L210.18,240.18 L210.75,240.39 L211.31,240.60 L211.87,240.81 L212.43,241.03 L212.99,241.26 L213.54,241.48 L214.10,241.71 L214.66,241.94 L215.21,242.17 L215.77,242.40 L216.32,242.64 L216.87,242.88 L217.42,243.12 L217.98,243.36 L218.53,243.61 L219.08,243.85 L219.63,244.10 L220.18,244.35 L220.73,244.60 L221.27,244.86 L221.82,245.11 L222.37,245.36 L222.92,245.62 L223.46,245.88 L224.01,246.13 L224.56,246.39 L225.10,246.65 L225.65,246.91 L226.20,247.17 L226.74,247.43 L227.29,247.69 L227.83,247.95 L228.38,248.21 L228.93,248.47 L229.47,248.73 L230.02,248.99 L230.56,249.25 L231.11,249.51 L231.66,249.77 L232.20,250.03 L232.75,250.29 L233.30,250.54 L233.85,250.80 L234.39,251.05 L234.94,251.31 L235.49,251.56 L236.04,251.81 L236.59,252.06 L237.14,252.31 L237.69,252.55 L238.24,252.80 L238.80,253.04 L239.35,253.28 L239.90,253.52 L240.46,253.76 L241.01,253.99 L241.57,254.23 L242.12,254.45 L242.68,254.68 L243.24,254.91 L243.80,255.13 L244.36,255.35 L244.92,255.56 L245.48,255.78 L246.05,255.99 L246.61,256.20 L247.17,256.41 L247.74,256.61 L248.31,256.82 L248.87,257.02 L249.44,257.21 L250.01,257.41 L250.58,257.60 L251.15,257.79 L251.72,257.98 L252.29,258.17 L252.86,258.35 L253.43,258.54 L254.01,258.72 L254.58,258.90 L255.15,259.07 L255.73,259.25 L256.31,259.42 L256.88,259.59 L257.46,259.76 L258.04,259.93 L258.62,260.09 L259.19,260.25 L259.77,260.42 L260.35,260.57 L260.94,260.73 L261.52,260.89 L262.10,261.04 L262.68,261.20 L263.26,261.35 L263.85,261.50 L264.43,261.65 L265.01,261.79 L265.60,261.94 L266.18,262.08 L266.77,262.22 L267.36,262.36 L267.94,262.50 L268.53,262.64 L269.12,262.78 L269.70,262.91 L270.29,263.05 L270.88,263.18 L271.47,263.31 L272.06,263.44 L272.65,263.57 L273.24,263.70 L273.83,263.83 L274.42,263.95 L275.01,264.08 L275.60,264.20 L276.19,264.32 L276.79,264.45 L277.38,264.57 L277.97,264.69 L278.56,264.81 L279.15,264.92 L279.75,265.04 L280.34,265.16 L280.93,265.27 L281.53,265.39 L282.12,265.50 L282.71,265.62 L283.31,265.73 L283.90,265.84 L284.50,265.95 L285.09,266.07 L285.69,266.18 L286.28,266.29 L286.87,266.40 L287.47,266.51 L288.06,266.61 L288.66,266.72 L289.25,266.83 L289.85,266.94 L290.44,267.05 L291.04,267.15 L291.63,267.26 L292.23,267.36 L292.82,267.47 L293.42,267.58 L294.01,267.68 L294.61,267.79 L295.20,267.89 L295.80,268.00 L296.39,268.11 L296.99,268.21 L297.58,268.32 L298.18,268.42 L298.77,268.53 L299.36,268.63 L299.96,268.74 L300.55,268.84 L301.14,268.95 L301.74,269.06 L302.33,269.16 L302.92,269.27 L303.52,269.38 L304.11,269.48 L304.70,269.59 L305.29,269.70 L305.89,269.81 L306.48,269.92 L307.07,270.03 L307.66,270.14 L308.25,270.25 L308.84,270.36 L309.43,270.47 L310.02,270.58" fill="none" stroke="#008080" stroke-width="1.35" stroke-linejoin="round" stroke-linecap="round" />
<path d="M100.40,300.39 L100.97,300.61 L101.53,300.84 L102.09,301.07 L102.65,301.29 L103.21,301.52 L103.77,301.75 L104.33,301.97 L104.89,302.20 L105.45,302.43 L106.01,302.66 L106.56,302.88 L107.12,303.11 L107.68,303.34 L108.23,303.57 L108.79,303.80 L109.34,304.03 L109.90,304.26 L110.45,304.49 L111.00,304.72 L111.56,304.95 L112.11,305.18 L112.66,305.42 L113.22,305.65 L113.77,305.88 L114.32,306.11 L114.87,306.35 L115.42,306.58 L115.97,306.82 L116.53,307.06 L117.08,307.29 L117.63,307.53 L118.18,307.77 L118.73,308.01 L119.28,308.25 L119.84,308.49 L120.39,308.73 L120.94,308.97 L121.49,309.21 L122.04,309.45 L122.60,309.70 L123.15,309.94 L123.70,310.19 L124.25,310.43 L124.81,310.68 L125.36,310.93 L125.91,311.17 L126.47,311.42 L127.02,311.67 L127.58,311.92 L128.13,312.17 L128.68,312.42 L129.24,312.67 L129.80,312.92 L130.35,313.18 L130.91,313.43 L131.46,313.68 L132.02,313.93 L132.58,314.18 L133.14,314.43 L133.70,314.67 L134.26,314.91 L134.82,315.16 L135.38,315.39 L135.94,315.63 L136.51,315.86 L137.07,316.08 L137.64,316.30 L138.20,316.52 L138.77,316.73 L139.34,316.93 L139.91,317.13 L140.48,317.32 L141.06,317.51 L141.63,317.68 L142.21,317.86 L142.78,318.02 L143.36,318.18 L143.94,318.33 L144.52,318.48 L145.10,318.62 L145.69,318.76 L146.27,318.89 L146.85,319.02 L147.44,319.14 L148.03,319.25 L148.61,319.36 L149.20,319.47 L149.79,319.57 L150.38,319.67 L150.97,319.76 L151.56,319.85 L152.16,319.93 L152.75,320.01 L153.35,320.09 L153.94,320.16 L154.54,320.23 L155.13,320.29 L155.73,320.35 L156.33,320.41 L156.92,320.47 L157.52,320.52 L158.12,320.57 L158.72,320.61 L159.32,320.66 L159.92,320.70 L160.52,320.74 L161.12,320.77 L161.72,320.81 L162.33,320.84 L162.93,320.87 L163.53,320.90 L164.13,320.93 L164.74,320.96 L165.34,320.98 L165.94,321.00 L166.54,321.03 L167.15,321.05 L167.75,321.07 L168.35,321.09 L168.96,321.11 L169.56,321.13 L170.16,321.15 L170.77,321.16 L171.37,321.18 L171.97,321.20 L172.58,321.22 L173.18,321.23 L173.78,321.25 L174.39,321.26 L174.99,321.28 L175.59,321.29 L176.20,321.30 L176.80,321.32 L177.40,321.33 L178.01,321.34 L178.61,321.36 L179.21,321.37 L179.82,321.38 L180.42,321.39 L181.02,321.40 L181.62,321.41 L182.23,321.42 L182.83,321.43 L183.43,321.44 L184.04,321.44 L184.64,321.45 L185.24,321.46 L185.85,321.47 L186.45,321.47 L187.05,321.48 L187.66,321.48 L188.26,321.49 L188.86,321.49 L189.46,321.50 L190.07,321.50 L190.67,321.51 L191.27,321.51 L191.88,321.51 L192.48,321.51 L193.08,321.52 L193.68,321.52 L194.29,321.52 L194.89,321.52 L195.49,321.52 L196.10,321.52 L196.70,321.52 L197.30,321.52 L197.91,321.52 L198.51,321.52 L199.11,321.52 L199.71,321.52 L200.32,321.52 L200.92,321.51 L201.52,321.51 L202.13,321.51 L202.73,321.51 L203.33,321.50 L203.93,321.50 L204.54,321.49 L205.14,321.49 L205.74,321.48 L206.35,321.48 L206.95,321.47 L207.55,321.47 L208.15,321.46 L208.76,321.46 L209.36,321.45 L209.96,321.44 L210.56,321.44 L211.17,321.43 L211.77,321.42 L212.37,321.41 L212.98,321.41 L213.58,321.40 L214.18,321.39 L214.78,321.38 L215.39,321.37 L215.99,321.36 L216.59,321.35 L217.19,321.34 L217.80,321.33 L218.40,321.32 L219.00,321.31 L219.61,321.30 L220.21,321.29 L220.81,321.28 L221.41,321.27 L222.02,321.26 L222.62,321.25 L223.22,321.23 L223.82,321.22 L224.43,321.21 L225.03,321.20 L225.63,321.18 L226.23,321.17 L226.84,321.16 L227.44,321.15 L228.04,321.13 L228.65,321.12 L229.25,321.11 L229.85,321.09 L230.45,321.08 L231.06,321.06 L231.66,321.05 L232.26,321.03 L232.86,321.02 L233.47,321.01 L234.07,320.99 L234.67,320.98 L235.27,320.96 L235.88,320.94 L236.48,320.93 L237.08,320.91 L237.68,320.90 L238.29,320.88 L238.89,320.87 L239.49,320.85 L240.10,320.83 L240.70,320.82 L241.30,320.80 L241.90,320.79 L242.51,320.77 L243.11,320.75 L243.71,320.74 L244.31,320.72 L244.92,320.70 L245.52,320.69 L246.12,320.67 L246.72,320.65 L247.33,320.63 L247.93,320.62 L248.53,320.60 L249.13,320.58 L249.74,320.57 L250.34,320.55 L250.94,320.53 L251.54,320.51 L252.15,320.50 L252.75,320.48 L253.35,320.46 L253.95,320.44 L254.56,320.43 L255.16,320.41 L255.76,320.39 L256.37,320.37 L256.97,320.36 L257.57,320.34 L258.17,320.32 L258.78,320.30 L259.38,320.29 L259.98,320.27 L260.58,320.25 L261.19,320.23 L261.79,320.21 L262.39,320.20 L262.99,320.18 L263.60,320.16 L264.20,320.14 L264.80,320.13 L265.40,320.11 L266.01,320.09 L266.61,320.07 L267.21,320.06 L267.81,320.04 L268.42,320.02 L269.02,320.01 L269.62,319.99 L270.22,319.97 L270.83,319.95 L271.43,319.94 L272.03,319.92 L272.63,319.90 L273.24,319.89 L273.84,319.87 L274.44,319.85 L275.04,319.84 L275.65,319.82 L276.25,319.81 L276.85,319.79 L277.46,319.77 L278.06,319.76 L278.66,319.74 L279.26,319.73 L279.87,319.71 L280.47,319.70 L281.07,319.68 L281.67,319.66 L282.28,319.65 L282.88,319.64 L283.48,319.62 L284.08,319.61 L284.69,319.59 L285.29,319.58 L285.89,319.56 L286.49,319.55 L287.10,319.53 L287.70,319.52 L288.30,319.51 L288.91,319.49 L289.51,319.48 L290.11,319.47 L290.71,319.45 L291.32,319.44 L291.92,319.43 L292.52,319.42 L293.12,319.41 L293.73,319.39 L294.33,319.38 L294.93,319.37 L295.53,319.36 L296.14,319.35 L296.74,319.34 L297.34,319.33 L297.95,319.32 L298.55,319.31 L299.15,319.30 L299.75,319.29 L300.36,319.28 L300.96,319.27 L301.56,319.26 L302.16,319.25 L302.77,319.24 L303.37,319.23 L303.97,319.22 L304.58,319.22 L305.18,319.21 L305.78,319.20 L306.38,319.19 L306.99,319.19 L307.59,319.18 L308.19,319.17 L308.80,319.17 L309.40,319.16 L310.00,319.16" fill="none" stroke="#ffcc00" stroke-width="1.45" stroke-linejoin="round" stroke-linecap="round" />
<path d="M87.24,206.74 L87.33,207.32 L87.41,207.90 L87.49,208.49 L87.57,209.07 L87.65,209.66 L87.72,210.25 L87.79,210.84 L87.86,211.43 L87.92,212.02 L87.98,212.61 L88.04,213.20 L88.10,213.80 L88.16,214.39 L88.21,214.99 L88.26,215.59 L88.31,216.19 L88.36,216.78 L88.41,217.38 L88.45,217.99 L88.50,218.59 L88.54,219.19 L88.58,219.79 L88.63,220.39 L88.67,221.00 L88.71,221.60 L88.75,222.21 L88.79,222.81 L88.83,223.42 L88.87,224.02 L88.91,224.63 L88.95,225.23 L89.00,225.84 L89.04,226.44 L89.08,227.05 L89.13,227.66 L89.17,228.26 L89.22,228.87 L89.27,229.47 L89.32,230.08 L89.37,230.68 L89.42,231.29 L89.47,231.89 L89.53,232.50 L89.59,233.10 L89.65,233.71 L89.71,234.31 L89.78,234.91 L89.85,235.51 L89.92,236.11 L89.99,236.71 L90.07,237.31 L90.15,237.91 L90.23,238.51 L90.32,239.11 L90.41,239.70 L90.51,240.30 L90.61,240.89 L90.71,241.48 L90.82,242.08 L90.93,242.67 L91.04,243.26 L91.16,243.85 L91.29,244.43 L91.41,245.02 L91.55,245.60 L91.69,246.18 L91.83,246.77 L91.98,247.35 L92.14,247.92 L92.30,248.50 L92.47,249.08 L92.64,249.65 L92.82,250.22 L93.00,250.79 L93.19,251.36 L93.39,251.92 L93.59,252.49 L93.80,253.05 L94.02,253.61 L94.24,254.17 L94.46,254.72 L94.69,255.27 L94.93,255.83 L95.18,256.37 L95.42,256.92 L95.68,257.46 L95.94,258.01 L96.20,258.54 L96.47,259.08 L96.75,259.62 L97.03,260.15 L97.32,260.67 L97.61,261.20 L97.91,261.72 L98.21,262.24 L98.51,262.76 L98.83,263.27 L99.14,263.79 L99.46,264.29 L99.79,264.80 L100.12,265.30 L100.46,265.80 L100.80,266.29 L101.15,266.79 L101.50,267.27 L101.85,267.76 L102.21,268.24 L102.57,268.72 L102.94,269.19 L103.32,269.67 L103.69,270.13 L104.07,270.60 L104.46,271.06 L104.85,271.51 L105.24,271.96 L105.64,272.41 L106.04,272.86 L106.45,273.30 L106.86,273.73 L107.27,274.17 L107.69,274.59 L108.11,275.02 L108.54,275.44 L108.97,275.86 L109.40,276.27 L109.83,276.68 L110.27,277.09 L110.71,277.49 L111.16,277.89 L111.61,278.29 L112.06,278.69 L112.51,279.08 L112.97,279.47 L113.43,279.85 L113.89,280.24 L114.35,280.62 L114.82,281.00 L115.28,281.37 L115.75,281.75 L116.23,282.12 L116.70,282.49 L117.18,282.86 L117.65,283.22 L118.13,283.59 L118.62,283.95 L119.10,284.31 L119.58,284.67 L120.07,285.03 L120.55,285.39 L121.04,285.75 L121.53,286.10 L122.02,286.46 L122.51,286.81 L123.00,287.16 L123.49,287.52 L123.98,287.87 L124.48,288.22 L124.97,288.57 L125.46,288.92 L125.96,289.27 L126.45,289.62 L126.94,289.97 L127.44,290.32 L127.93,290.67 L128.43,291.02 L128.92,291.37 L129.41,291.72 L129.90,292.07 L130.39,292.43 L130.88,292.78 L131.37,293.13 L131.86,293.49 L132.35,293.85 L132.84,294.20 L133.32,294.56 L133.81,294.92 L134.29,295.28 L134.77,295.64 L135.25,296.01 L135.73,296.37 L136.20,296.74 L136.68,297.11 L137.15,297.48 L137.62,297.86 L138.09,298.23 L138.56,298.61 L139.02,298.99 L139.48,299.37 L139.94,299.76 L140.40,300.15 L140.85,300.54 L141.30,300.93 L141.75,301.33 L142.20,301.72 L142.64,302.12 L143.09,302.53 L143.53,302.93 L143.97,303.34 L144.40,303.75 L144.84,304.16 L145.27,304.57 L145.71,304.98 L146.14,305.40 L146.57,305.81 L147.00,306.23 L147.42,306.65 L147.85,307.07 L148.28,307.49 L148.70,307.91 L149.13,308.34 L149.55,308.76 L149.97,309.19 L150.40,309.61 L150.82,310.04 L151.24,310.46 L151.67,310.89 L152.09,311.32 L152.51,311.75 L152.93,312.17 L153.36,312.60 L153.78,313.03 L154.20,313.46 L154.63,313.89 L155.05,314.31 L155.48,314.74 L155.91,315.17 L156.33,315.59 L156.76,316.02 L157.19,316.44 L157.63,316.87 L158.06,317.29 L158.49,317.71 L158.93,318.13 L159.37,318.55 L159.81,318.97 L160.25,319.39 L160.69,319.80 L161.13,320.22 L161.58,320.63 L162.03,321.04 L162.48,321.44 L162.94,321.84 L163.39,322.24 L163.85,322.64 L164.31,323.03 L164.78,323.41 L165.24,323.80 L165.71,324.17 L166.18,324.55 L166.66,324.92 L167.14,325.28 L167.62,325.64 L168.10,325.99 L168.59,326.34 L169.08,326.67 L169.58,327.01 L170.07,327.33 L170.57,327.65 L171.08,327.97 L171.59,328.27 L172.10,328.57 L172.62,328.86 L173.14,329.14 L173.66,329.41 L174.19,329.68 L174.72,329.93 L175.26,330.18 L175.80,330.41 L176.35,330.64 L176.90,330.86 L177.45,331.06 L178.01,331.26 L178.58,331.45 L179.14,331.62 L179.72,331.79 L180.29,331.95 L180.87,332.09 L181.46,332.23 L182.04,332.36 L182.63,332.49 L183.22,332.60 L183.82,332.71 L184.41,332.81 L185.01,332.90 L185.61,332.99 L186.20,333.07 L186.80,333.15 L187.40,333.22 L188.00,333.29 L188.60,333.35 L189.20,333.41 L189.80,333.46 L190.40,333.51 L191.00,333.56 L191.60,333.60 L192.20,333.63 L192.80,333.66 L193.40,333.69 L194.00,333.71 L194.61,333.73 L195.21,333.75 L195.81,333.76 L196.41,333.77 L197.01,333.78 L197.61,333.78 L198.22,333.78 L198.82,333.77 L199.42,333.77 L200.02,333.76 L200.63,333.74 L201.23,333.73 L201.83,333.71 L202.43,333.69 L203.04,333.67 L203.64,333.64 L204.24,333.62 L204.84,333.59 L205.45,333.55 L206.05,333.52 L206.65,333.49 L207.26,333.45 L207.86,333.41 L208.46,333.37 L209.07,333.33 L209.67,333.29 L210.27,333.25 L210.88,333.20 L211.48,333.16 L212.08,333.11 L212.69,333.06 L213.29,333.01 L213.89,332.97 L214.50,332.92 L215.10,332.87 L215.70,332.82 L216.31,332.77 L216.91,332.72 L217.51,332.67 L218.11,332.62 L218.72,332.57 L219.32,332.52 L219.92,332.47 L220.52,332.43 L221.13,332.38 L221.73,332.33 L222.33,332.29 L222.93,332.24 L223.53,332.19 L224.14,332.15 L224.74,332.11 L225.34,332.06 L225.94,332.02 L226.54,331.97 L227.14,331.93 L227.75,331.89 L228.35,331.85 L228.95,331.81 L229.55,331.76 L230.15,331.72 L230.75,331.68 L231.35,331.64 L231.95,331.60 L232.55,331.57 L233.15,331.53 L233.76,331.49 L234.36,331.45 L234.96,331.41 L235.56,331.38 L236.16,331.34 L236.76,331.30 L237.36,331.27 L237.96,331.23 L238.56,331.20 L239.16,331.16 L239.76,331.13 L240.36,331.09 L240.96,331.06 L241.56,331.02 L242.16,330.99 L242.76,330.96 L243.36,330.92 L243.96,330.89 L244.56,330.86 L245.16,330.83 L245.76,330.80 L246.36,330.76 L246.96,330.73 L247.56,330.70 L248.16,330.67 L248.76,330.64 L249.35,330.61 L249.95,330.58 L250.55,330.55 L251.15,330.52 L251.75,330.49 L252.35,330.47 L252.95,330.44 L253.55,330.41 L254.15,330.38 L254.75,330.35 L255.35,330.33 L255.95,330.30 L256.55,330.27 L257.15,330.24 L257.75,330.22 L258.34,330.19 L258.94,330.16 L259.54,330.14 L260.14,330.11 L260.74,330.09 L261.34,330.06 L261.94,330.03 L262.54,330.01 L263.14,329.98 L263.74,329.96 L264.34,329.93 L264.94,329.91 L265.54,329.88 L266.14,329.86 L266.73,329.83 L267.33,329.81 L267.93,329.79 L268.53,329.76 L269.13,329.74 L269.73,329.71 L270.33,329.69 L270.93,329.67 L271.53,329.64 L272.13,329.62 L272.73,329.59 L273.33,329.57 L273.93,329.55 L274.53,329.52 L275.13,329.50 L275.73,329.48 L276.33,329.45 L276.93,329.43 L277.53,329.41 L278.13,329.39 L278.73,329.36 L279.32,329.34 L279.92,329.32 L280.52,329.29 L281.12,329.27 L281.72,329.25 L282.33,329.22 L282.93,329.20 L283.53,329.18 L284.13,329.16 L284.73,329.13 L285.33,329.11 L285.93,329.09 L286.53,329.06 L287.13,329.04 L287.73,329.02 L288.33,328.99 L288.93,328.97 L289.53,328.95 L290.13,328.92 L290.73,328.90 L291.33,328.88 L291.93,328.85 L292.54,328.83 L293.14,328.80 L293.74,328.78 L294.34,328.76 L294.94,328.73 L295.54,328.71 L296.14,328.68 L296.75,328.66 L297.35,328.64 L297.95,328.61 L298.55,328.59 L299.15,328.56 L299.76,328.54 L300.36,328.51 L300.96,328.48 L301.56,328.46 L302.17,328.43 L302.77,328.41 L303.37,328.38 L303.97,328.36 L304.58,328.33 L305.18,328.30 L305.78,328.28 L306.39,328.25 L306.99,328.22 L307.59,328.19 L308.20,328.17 L308.80,328.14 L309.40,328.11 L310.01,328.08" fill="none" stroke="#c0203a" stroke-width="1.15" stroke-linejoin="round" stroke-linecap="round" />
<path d="M87.30,206.70 L87.35,207.31 L87.39,207.93 L87.43,208.54 L87.48,209.14 L87.52,209.75 L87.57,210.36 L87.62,210.96 L87.67,211.56 L87.73,212.16 L87.78,212.76 L87.83,213.36 L87.89,213.95 L87.94,214.55 L88.00,215.14 L88.06,215.73 L88.11,216.32 L88.17,216.91 L88.23,217.50 L88.29,218.09 L88.35,218.68 L88.41,219.27 L88.47,219.86 L88.53,220.45 L88.60,221.04 L88.66,221.63 L88.72,222.22 L88.78,222.81 L88.84,223.40 L88.90,223.99 L88.96,224.58 L89.03,225.17 L89.09,225.76 L89.15,226.36 L89.21,226.95 L89.27,227.55 L89.32,228.15 L89.38,228.74 L89.44,229.34 L89.50,229.95 L89.55,230.55 L89.61,231.15 L89.66,231.76 L89.72,232.37 L89.78,232.98 L89.83,233.59 L89.89,234.20 L89.95,234.81 L90.01,235.42 L90.07,236.03 L90.13,236.64 L90.19,237.25 L90.26,237.86 L90.33,238.47 L90.40,239.09 L90.48,239.70 L90.56,240.30 L90.64,240.91 L90.73,241.52 L90.82,242.13 L90.91,242.73 L91.01,243.33 L91.12,243.93 L91.23,244.53 L91.34,245.13 L91.46,245.73 L91.59,246.32 L91.72,246.91 L91.86,247.50 L92.01,248.08 L92.16,248.66 L92.32,249.24 L92.49,249.82 L92.67,250.39 L92.85,250.96 L93.04,251.52 L93.24,252.09 L93.45,252.64 L93.66,253.20 L93.88,253.75 L94.11,254.30 L94.34,254.85 L94.59,255.39 L94.83,255.93 L95.09,256.47 L95.35,257.00 L95.61,257.53 L95.89,258.06 L96.16,258.58 L96.45,259.11 L96.73,259.63 L97.03,260.15 L97.33,260.66 L97.63,261.17 L97.94,261.69 L98.25,262.19 L98.57,262.70 L98.89,263.20 L99.22,263.70 L99.55,264.20 L99.89,264.70 L100.22,265.20 L100.57,265.69 L100.91,266.18 L101.26,266.67 L101.61,267.16 L101.97,267.65 L102.32,268.13 L102.68,268.61 L103.05,269.10 L103.41,269.58 L103.78,270.05 L104.15,270.53 L104.52,271.01 L104.89,271.48 L105.27,271.95 L105.64,272.43 L106.02,272.90 L106.40,273.37 L106.78,273.84 L107.16,274.30 L107.54,274.77 L107.92,275.24 L108.30,275.70 L108.69,276.17 L109.07,276.63 L109.46,277.09 L109.84,277.56 L110.23,278.02 L110.62,278.48 L111.00,278.94 L111.39,279.40 L111.78,279.86 L112.17,280.32 L112.56,280.78 L112.95,281.24 L113.34,281.70 L113.72,282.15 L114.11,282.61 L114.50,283.07 L114.89,283.53 L115.28,283.99 L115.67,284.44 L116.06,284.90 L116.45,285.36 L116.84,285.82 L117.23,286.28 L117.62,286.73 L118.01,287.19 L118.40,287.65 L118.79,288.11 L119.17,288.57 L119.56,289.03 L119.95,289.49 L120.33,289.95 L120.72,290.41 L121.10,290.88 L121.49,291.34 L121.87,291.80 L122.25,292.27 L122.63,292.73 L123.01,293.20 L123.39,293.66 L123.77,294.13 L124.15,294.60 L124.53,295.07 L124.90,295.54 L125.28,296.01 L125.66,296.48 L126.03,296.95 L126.41,297.43 L126.78,297.90 L127.16,298.37 L127.53,298.84 L127.91,299.31 L128.29,299.77 L128.67,300.24 L129.05,300.71 L129.43,301.17 L129.82,301.63 L130.20,302.09 L130.59,302.55 L130.99,303.00 L131.38,303.45 L131.78,303.90 L132.18,304.34 L132.59,304.78 L132.99,305.22 L133.41,305.65 L133.83,306.08 L134.25,306.51 L134.67,306.93 L135.10,307.34 L135.54,307.75 L135.98,308.16 L136.42,308.56 L136.87,308.96 L137.32,309.36 L137.77,309.75 L138.23,310.14 L138.68,310.54 L139.14,310.93 L139.60,311.32 L140.05,311.71 L140.51,312.11 L140.96,312.50 L141.42,312.90 L141.87,313.29 L142.33,313.69 L142.78,314.09 L143.23,314.48 L143.69,314.88 L144.14,315.28 L144.60,315.67 L145.05,316.07 L145.51,316.47 L145.96,316.86 L146.42,317.26 L146.88,317.65 L147.33,318.05 L147.79,318.44 L148.25,318.83 L148.71,319.22 L149.18,319.61 L149.64,319.99 L150.10,320.38 L150.57,320.76 L151.04,321.14 L151.50,321.52 L151.97,321.90 L152.45,322.28 L152.92,322.65 L153.40,323.02 L153.87,323.39 L154.35,323.75 L154.84,324.11 L155.32,324.47 L155.81,324.82 L156.30,325.18 L156.79,325.52 L157.28,325.87 L157.78,326.21 L158.28,326.55 L158.78,326.88 L159.29,327.21 L159.79,327.53 L160.31,327.85 L160.82,328.17 L161.34,328.48 L161.86,328.78 L162.38,329.08 L162.91,329.36 L163.44,329.65 L163.98,329.92 L164.52,330.18 L165.06,330.44 L165.60,330.69 L166.15,330.92 L166.71,331.15 L167.26,331.36 L167.82,331.57 L168.39,331.76 L168.96,331.94 L169.53,332.11 L170.10,332.27 L170.68,332.42 L171.27,332.55 L171.85,332.68 L172.44,332.80 L173.03,332.91 L173.62,333.01 L174.21,333.10 L174.81,333.19 L175.41,333.27 L176.01,333.35 L176.60,333.41 L177.20,333.48 L177.80,333.54 L178.40,333.60 L179.01,333.65 L179.61,333.70 L180.21,333.75 L180.81,333.79 L181.41,333.84 L182.01,333.87 L182.61,333.91 L183.21,333.94 L183.81,333.97 L184.41,334.00 L185.01,334.02 L185.61,334.04 L186.21,334.06 L186.81,334.08 L187.41,334.09 L188.01,334.10 L188.61,334.11 L189.22,334.12 L189.82,334.12 L190.42,334.13 L191.02,334.12 L191.62,334.12 L192.22,334.12 L192.82,334.11 L193.42,334.10 L194.02,334.09 L194.62,334.08 L195.22,334.06 L195.83,334.05 L196.43,334.03 L197.03,334.01 L197.63,333.99 L198.23,333.97 L198.83,333.94 L199.43,333.92 L200.03,333.89 L200.63,333.86 L201.24,333.83 L201.84,333.80 L202.44,333.77 L203.04,333.73 L203.64,333.70 L204.24,333.66 L204.84,333.63 L205.44,333.59 L206.04,333.55 L206.65,333.51 L207.25,333.47 L207.85,333.43 L208.45,333.39 L209.05,333.35 L209.65,333.30 L210.25,333.26 L210.85,333.22 L211.45,333.17 L212.06,333.13 L212.66,333.08 L213.26,333.04 L213.86,332.99 L214.46,332.95 L215.06,332.90 L215.66,332.86 L216.26,332.81 L216.86,332.77 L217.47,332.72 L218.07,332.68 L218.67,332.63 L219.27,332.59 L219.87,332.54 L220.47,332.50 L221.07,332.45 L221.67,332.41 L222.27,332.37 L222.87,332.33 L223.48,332.28 L224.08,332.24 L224.68,332.20 L225.28,332.16 L225.88,332.12 L226.48,332.08 L227.08,332.04 L227.68,332.00 L228.28,331.96 L228.88,331.92 L229.48,331.88 L230.08,331.84 L230.68,331.80 L231.29,331.77 L231.89,331.73 L232.49,331.69 L233.09,331.65 L233.69,331.62 L234.29,331.58 L234.89,331.55 L235.49,331.51 L236.09,331.47 L236.69,331.44 L237.29,331.40 L237.89,331.37 L238.49,331.33 L239.09,331.30 L239.69,331.27 L240.29,331.23 L240.90,331.20 L241.50,331.17 L242.10,331.13 L242.70,331.10 L243.30,331.07 L243.90,331.03 L244.50,331.00 L245.10,330.97 L245.70,330.94 L246.30,330.91 L246.90,330.88 L247.50,330.85 L248.10,330.81 L248.70,330.78 L249.30,330.75 L249.90,330.72 L250.50,330.69 L251.10,330.66 L251.71,330.63 L252.31,330.61 L252.91,330.58 L253.51,330.55 L254.11,330.52 L254.71,330.49 L255.31,330.46 L255.91,330.43 L256.51,330.40 L257.11,330.38 L257.71,330.35 L258.31,330.32 L258.91,330.29 L259.51,330.27 L260.11,330.24 L260.71,330.21 L261.31,330.19 L261.91,330.16 L262.51,330.13 L263.12,330.11 L263.72,330.08 L264.32,330.05 L264.92,330.03 L265.52,330.00 L266.12,329.97 L266.72,329.95 L267.32,329.92 L267.92,329.90 L268.52,329.87 L269.12,329.85 L269.72,329.82 L270.32,329.80 L270.92,329.77 L271.52,329.75 L272.12,329.72 L272.73,329.70 L273.33,329.67 L273.93,329.65 L274.53,329.62 L275.13,329.60 L275.73,329.57 L276.33,329.55 L276.93,329.53 L277.53,329.50 L278.13,329.48 L278.73,329.45 L279.33,329.43 L279.93,329.40 L280.54,329.38 L281.14,329.36 L281.74,329.33 L282.34,329.31 L282.94,329.28 L283.54,329.26 L284.14,329.24 L284.74,329.21 L285.34,329.19 L285.94,329.17 L286.55,329.14 L287.15,329.12 L287.75,329.09 L288.35,329.07 L288.95,329.05 L289.55,329.02 L290.15,329.00 L290.75,328.97 L291.35,328.95 L291.96,328.93 L292.56,328.90 L293.16,328.88 L293.76,328.85 L294.36,328.83 L294.96,328.81 L295.56,328.78 L296.16,328.76 L296.77,328.73 L297.37,328.71 L297.97,328.69 L298.57,328.66 L299.17,328.64 L299.77,328.61 L300.37,328.59 L300.98,328.56 L301.58,328.54 L302.18,328.51 L302.78,328.49 L303.38,328.46 L303.98,328.44 L304.59,328.41 L305.19,328.39 L305.79,328.36 L306.39,328.34 L306.99,328.31 L307.59,328.29 L308.20,328.26 L308.80,328.24 L309.40,328.21 L310.00,328.18" fill="none" stroke="#c0203a" stroke-width="1.15" stroke-linejoin="round" stroke-linecap="round" />
<path d="M446.98,16.82 L447.56,17.03 L448.13,17.24 L448.70,17.45 L449.27,17.65 L449.85,17.85 L450.42,18.05 L451.00,18.25 L451.57,18.44 L452.15,18.63 L452.73,18.82 L453.30,19.01 L453.88,19.19 L454.46,19.37 L455.04,19.55 L455.62,19.73 L456.20,19.91 L456.78,20.08 L457.36,20.25 L457.94,20.42 L458.52,20.58 L459.11,20.75 L459.69,20.91 L460.27,21.07 L460.86,21.22 L461.44,21.38 L462.03,21.53 L462.61,21.68 L463.20,21.83 L463.79,21.97 L464.37,22.11 L464.96,22.26 L465.55,22.39 L466.14,22.53 L466.73,22.66 L467.31,22.80 L467.90,22.93 L468.49,23.05 L469.08,23.18 L469.67,23.30 L470.27,23.42 L470.86,23.54 L471.45,23.66 L472.04,23.77 L472.63,23.88 L473.23,23.99 L473.82,24.10 L474.41,24.21 L475.01,24.31 L475.60,24.41 L476.19,24.51 L476.79,24.61 L477.38,24.70 L477.98,24.79 L478.58,24.88 L479.17,24.97 L479.77,25.06 L480.36,25.14 L480.96,25.22 L481.56,25.30 L482.15,25.38 L482.75,25.46 L483.35,25.53 L483.95,25.60 L484.54,25.67 L485.14,25.74 L485.74,25.80 L486.34,25.86 L486.94,25.92 L487.54,25.98 L488.14,26.04 L488.73,26.09 L489.33,26.15 L489.93,26.20 L490.53,26.25 L491.13,26.29 L491.73,26.34 L492.33,26.38 L492.93,26.42 L493.53,26.46 L494.13,26.50 L494.73,26.53 L495.33,26.57 L495.94,26.60 L496.54,26.63 L497.14,26.66 L497.74,26.68 L498.34,26.71 L498.94,26.73 L499.54,26.75 L500.14,26.77 L500.75,26.79 L501.35,26.80 L501.95,26.82 L502.55,26.83 L503.15,26.84 L503.76,26.85 L504.36,26.86 L504.96,26.86 L505.56,26.87 L506.16,26.87 L506.77,26.87 L507.37,26.87 L507.97,26.87 L508.57,26.87 L509.18,26.87 L509.78,26.86 L510.38,26.85 L510.99,26.85 L511.59,26.84 L512.19,26.82 L512.79,26.81 L513.40,26.80 L514.00,26.78 L514.60,26.77 L515.21,26.75 L515.81,26.73 L516.41,26.71 L517.02,26.69 L517.62,26.67 L518.22,26.65 L518.82,26.62 L519.43,26.60 L520.03,26.57 L520.63,26.54 L521.24,26.52 L521.84,26.49 L522.44,26.46 L523.05,26.42 L523.65,26.39 L524.25,26.36 L524.85,26.32 L525.46,26.29 L526.06,26.25 L526.66,26.21 L527.27,26.18 L527.87,26.14 L528.47,26.10 L529.07,26.06 L529.68,26.02 L530.28,25.97 L530.88,25.93 L531.48,25.89 L532.09,25.84 L532.69,25.80 L533.29,25.75 L533.89,25.71 L534.50,25.66 L535.10,25.61 L535.70,25.56 L536.30,25.52 L536.90,25.47 L537.50,25.42 L538.11,25.37 L538.71,25.32 L539.31,25.26 L539.91,25.21 L540.51,25.16 L541.11,25.11 L541.71,25.05 L542.32,25.00 L542.92,24.94 L543.52,24.89 L544.12,24.83 L544.72,24.78 L545.32,24.72 L545.92,24.67 L546.52,24.61 L547.12,24.55 L547.72,24.49 L548.32,24.44 L548.92,24.38 L549.52,24.32 L550.12,24.26 L550.72,24.20 L551.32,24.14 L551.92,24.08 L552.52,24.02 L553.12,23.96 L553.72,23.90 L554.32,23.84 L554.92,23.77 L555.52,23.71 L556.12,23.65 L556.72,23.59 L557.32,23.53 L557.92,23.46 L558.52,23.40 L559.12,23.34 L559.72,23.27 L560.32,23.21 L560.92,23.15 L561.52,23.08 L562.12,23.02 L562.72,22.96 L563.32,22.89 L563.92,22.83 L564.52,22.76 L565.12,22.70 L565.72,22.64 L566.32,22.57 L566.92,22.51 L567.52,22.44 L568.12,22.38 L568.72,22.32 L569.32,22.25 L569.92,22.19 L570.52,22.12 L571.12,22.06 L571.71,21.99 L572.31,21.93 L572.91,21.87 L573.51,21.80 L574.11,21.74 L574.71,21.68 L575.31,21.61 L575.91,21.55 L576.51,21.49 L577.11,21.42 L577.71,21.36 L578.31,21.30 L578.91,21.23 L579.51,21.17 L580.11,21.11 L580.71,21.05 L581.31,20.99 L581.91,20.93 L582.51,20.86 L583.11,20.80 L583.71,20.74 L584.31,20.68 L584.91,20.62 L585.51,20.56 L586.11,20.50 L586.71,20.44 L587.31,20.39 L587.91,20.33 L588.51,20.27 L589.11,20.21 L589.71,20.15 L590.31,20.10 L590.91,20.04 L591.51,19.98 L592.11,19.93 L592.71,19.87 L593.31,19.82 L593.91,19.76 L594.51,19.71 L595.11,19.65 L595.71,19.60 L596.31,19.55 L596.91,19.49 L597.51,19.44 L598.11,19.39 L598.71,19.33 L599.31,19.28 L599.91,19.23 L600.52,19.18 L601.12,19.12 L601.72,19.07 L602.32,19.02 L602.92,18.97 L603.52,18.92 L604.12,18.87 L604.72,18.82 L605.32,18.77 L605.92,18.72 L606.52,18.67 L607.13,18.62 L607.73,18.57 L608.33,18.52 L608.93,18.47 L609.53,18.42 L610.13,18.38 L610.73,18.33 L611.33,18.28 L611.93,18.23 L612.54,18.18 L613.14,18.14 L613.74,18.09 L614.34,18.04 L614.94,17.99 L615.54,17.95 L616.14,17.90 L616.74,17.85 L617.35,17.81 L617.95,17.76 L618.55,17.72 L619.15,17.67 L619.75,17.62 L620.35,17.58 L620.95,17.53 L621.56,17.49 L622.16,17.44 L622.76,17.39 L623.36,17.35 L623.96,17.30 L624.56,17.26 L625.17,17.21 L625.77,17.17 L626.37,17.12 L626.97,17.08 L627.57,17.03 L628.17,16.99 L628.78,16.95 L629.38,16.90 L629.98,16.86 L630.58,16.81 L631.18,16.77 L631.78,16.72 L632.39,16.68 L632.99,16.64 L633.59,16.59 L634.19,16.55 L634.79,16.51 L635.39,16.46 L636.00,16.42 L636.60,16.38 L637.20,16.33 L637.80,16.29 L638.40,16.25 L639.01,16.20 L639.61,16.16 L640.21,16.12 L640.81,16.08 L641.41,16.03 L642.01,15.99 L642.62,15.95 L643.22,15.91 L643.82,15.86 L644.42,15.82 L645.02,15.78 L645.63,15.74 L646.23,15.70 L646.83,15.65 L647.43,15.61 L648.03,15.57 L648.63,15.53 L649.24,15.49 L649.84,15.44 L650.44,15.40 L651.04,15.36 L651.64,15.32 L652.25,15.28 L652.85,15.24 L653.45,15.20 L654.05,15.16 L654.65,15.11 L655.25,15.07 L655.86,15.03 L656.46,14.99 L657.06,14.95 L657.66,14.91 L658.26,14.87 L658.86,14.83 L659.47,14.79 L660.07,14.75 L660.67,14.71 L661.27,14.67 L661.87,14.63 L662.48,14.59 L663.08,14.55 L663.68,14.50 L664.28,14.46 L664.88,14.42 L665.48,14.38 L666.09,14.34 L666.69,14.30 L667.29,14.26 L667.89,14.22 L668.49,14.18 L669.09,14.14 L669.69,14.10 L670.30,14.06 L670.90,14.02 L671.50,13.99" fill="none" stroke="#0000a0" stroke-width="1.30" stroke-linejoin="round" stroke-linecap="round" />
<path d="M447.00,52.88 L447.60,52.97 L448.19,53.06 L448.79,53.15 L449.38,53.25 L449.98,53.34 L450.57,53.43 L451.17,53.52 L451.76,53.61 L452.36,53.71 L452.95,53.80 L453.55,53.89 L454.14,53.98 L454.74,54.07 L455.33,54.16 L455.93,54.25 L456.53,54.34 L457.12,54.43 L457.72,54.52 L458.32,54.61 L458.91,54.70 L459.51,54.79 L460.11,54.87 L460.71,54.96 L461.30,55.04 L461.90,55.13 L462.50,55.21 L463.10,55.29 L463.69,55.37 L464.29,55.45 L464.89,55.53 L465.49,55.61 L466.09,55.68 L466.68,55.76 L467.28,55.83 L467.88,55.91 L468.48,55.98 L469.08,56.05 L469.68,56.11 L470.28,56.18 L470.88,56.25 L471.48,56.31 L472.08,56.37 L472.68,56.43 L473.27,56.49 L473.87,56.55 L474.47,56.60 L475.07,56.65 L475.67,56.70 L476.27,56.75 L476.87,56.80 L477.48,56.84 L478.08,56.89 L478.68,56.93 L479.28,56.97 L479.88,57.00 L480.48,57.04 L481.08,57.07 L481.68,57.09 L482.28,57.12 L482.88,57.14 L483.48,57.17 L484.08,57.18 L484.69,57.20 L485.29,57.21 L485.89,57.22 L486.49,57.23 L487.09,57.24 L487.69,57.24 L488.29,57.24 L488.90,57.24 L489.50,57.24 L490.10,57.23 L490.70,57.22 L491.30,57.21 L491.91,57.20 L492.51,57.18 L493.11,57.17 L493.71,57.15 L494.31,57.13 L494.91,57.10 L495.52,57.08 L496.12,57.05 L496.72,57.02 L497.32,56.99 L497.92,56.95 L498.53,56.92 L499.13,56.88 L499.73,56.84 L500.33,56.80 L500.93,56.76 L501.53,56.72 L502.13,56.67 L502.74,56.62 L503.34,56.57 L503.94,56.52 L504.54,56.47 L505.14,56.42 L505.74,56.36 L506.34,56.31 L506.94,56.25 L507.54,56.19 L508.14,56.13 L508.74,56.07 L509.34,56.01 L509.94,55.94 L510.54,55.88 L511.14,55.81 L511.74,55.74 L512.34,55.67 L512.94,55.60 L513.54,55.53 L514.14,55.46 L514.74,55.39 L515.34,55.32 L515.94,55.24 L516.54,55.17 L517.13,55.09 L517.73,55.02 L518.33,54.94 L518.93,54.86 L519.52,54.78 L520.12,54.70 L520.72,54.62 L521.32,54.54 L521.91,54.46 L522.51,54.38 L523.11,54.30 L523.70,54.21 L524.30,54.13 L524.90,54.04 L525.49,53.96 L526.09,53.87 L526.68,53.79 L527.28,53.70 L527.88,53.61 L528.47,53.53 L529.07,53.44 L529.66,53.35 L530.26,53.26 L530.85,53.17 L531.45,53.08 L532.04,52.99 L532.64,52.90 L533.24,52.81 L533.83,52.72 L534.43,52.63 L535.02,52.54 L535.62,52.44 L536.21,52.35 L536.81,52.26 L537.40,52.17 L538.00,52.07 L538.59,51.98 L539.18,51.88 L539.78,51.79 L540.37,51.69 L540.97,51.60 L541.56,51.50 L542.16,51.41 L542.75,51.31 L543.35,51.21 L543.94,51.12 L544.54,51.02 L545.13,50.92 L545.72,50.83 L546.32,50.73 L546.91,50.63 L547.51,50.53 L548.10,50.44 L548.70,50.34 L549.29,50.24 L549.88,50.14 L550.48,50.04 L551.07,49.94 L551.67,49.84 L552.26,49.74 L552.85,49.64 L553.45,49.54 L554.04,49.44 L554.64,49.34 L555.23,49.24 L555.82,49.14 L556.42,49.04 L557.01,48.94 L557.60,48.84 L558.20,48.73 L558.79,48.63 L559.39,48.53 L559.98,48.43 L560.57,48.33 L561.17,48.23 L561.76,48.12 L562.35,48.02 L562.95,47.92 L563.54,47.82 L564.14,47.72 L564.73,47.61 L565.32,47.51 L565.92,47.41 L566.51,47.31 L567.10,47.20 L567.70,47.10 L568.29,47.00 L568.88,46.90 L569.48,46.79 L570.07,46.69 L570.67,46.59 L571.26,46.49 L571.85,46.38 L572.45,46.28 L573.04,46.18 L573.63,46.08 L574.23,45.97 L574.82,45.87 L575.42,45.77 L576.01,45.67 L576.60,45.56 L577.20,45.46 L577.79,45.36 L578.38,45.26 L578.98,45.16 L579.57,45.05 L580.17,44.95 L580.76,44.85 L581.35,44.75 L581.95,44.65 L582.54,44.55 L583.13,44.44 L583.73,44.34 L584.32,44.24 L584.92,44.14 L585.51,44.04 L586.10,43.94 L586.70,43.84 L587.29,43.74 L587.89,43.64 L588.48,43.54 L589.08,43.44 L589.67,43.34 L590.26,43.24 L590.86,43.14 L591.45,43.04 L592.05,42.95 L592.64,42.85 L593.24,42.75 L593.83,42.65 L594.42,42.55 L595.02,42.46 L595.61,42.36 L596.21,42.26 L596.80,42.17 L597.40,42.07 L597.99,41.97 L598.59,41.88 L599.18,41.78 L599.78,41.69 L600.37,41.59 L600.97,41.50 L601.56,41.40 L602.16,41.31 L602.75,41.22 L603.35,41.12 L603.94,41.03 L604.54,40.94 L605.13,40.84 L605.73,40.75 L606.32,40.66 L606.92,40.57 L607.52,40.48 L608.11,40.39 L608.71,40.30 L609.30,40.21 L609.90,40.12 L610.49,40.03 L611.09,39.94 L611.69,39.85 L612.28,39.77 L612.88,39.68 L613.47,39.59 L614.07,39.51 L614.67,39.42 L615.26,39.34 L615.86,39.25 L616.46,39.17 L617.05,39.08 L617.65,39.00 L618.25,38.92 L618.84,38.83 L619.44,38.75 L620.04,38.67 L620.64,38.59 L621.23,38.51 L621.83,38.43 L622.43,38.35 L623.02,38.27 L623.62,38.19 L624.22,38.11 L624.82,38.03 L625.41,37.96 L626.01,37.88 L626.61,37.80 L627.21,37.73 L627.81,37.65 L628.40,37.58 L629.00,37.50 L629.60,37.43 L630.20,37.35 L630.80,37.28 L631.39,37.21 L631.99,37.13 L632.59,37.06 L633.19,36.99 L633.79,36.92 L634.39,36.84 L634.99,36.77 L635.58,36.70 L636.18,36.63 L636.78,36.56 L637.38,36.49 L637.98,36.42 L638.58,36.35 L639.18,36.28 L639.77,36.21 L640.37,36.14 L640.97,36.07 L641.57,36.00 L642.17,35.93 L642.77,35.86 L643.37,35.79 L643.97,35.73 L644.57,35.66 L645.16,35.59 L645.76,35.52 L646.36,35.45 L646.96,35.39 L647.56,35.32 L648.16,35.25 L648.76,35.18 L649.36,35.12 L649.96,35.05 L650.55,34.98 L651.15,34.91 L651.75,34.85 L652.35,34.78 L652.95,34.71 L653.55,34.64 L654.15,34.58 L654.75,34.51 L655.34,34.44 L655.94,34.38 L656.54,34.31 L657.14,34.24 L657.74,34.17 L658.34,34.11 L658.94,34.04 L659.54,33.97 L660.13,33.90 L660.73,33.84 L661.33,33.77 L661.93,33.70 L662.53,33.63 L663.13,33.56 L663.72,33.50 L664.32,33.43 L664.92,33.36 L665.52,33.29 L666.12,33.22 L666.72,33.15 L667.31,33.08 L667.91,33.01 L668.51,32.94 L669.11,32.87 L669.71,32.80 L670.30,32.73 L670.90,32.66 L671.50,32.59" fill="none" stroke="#008000" stroke-width="1.30" stroke-linejoin="round" stroke-linecap="round" />
<path d="M446.97,65.96 L447.57,66.04 L448.17,66.11 L448.78,66.18 L449.38,66.25 L449.98,66.32 L450.59,66.38 L451.19,66.44 L451.79,66.50 L452.40,66.56 L453.00,66.62 L453.60,66.67 L454.21,66.72 L454.81,66.77 L455.42,66.82 L456.02,66.86 L456.62,66.91 L457.23,66.95 L457.83,66.98 L458.43,67.02 L459.03,67.05 L459.64,67.08 L460.24,67.11 L460.84,67.14 L461.45,67.17 L462.05,67.19 L462.65,67.21 L463.25,67.23 L463.86,67.24 L464.46,67.26 L465.06,67.27 L465.66,67.28 L466.27,67.28 L466.87,67.29 L467.47,67.29 L468.07,67.29 L468.67,67.29 L469.28,67.29 L469.88,67.28 L470.48,67.27 L471.08,67.26 L471.68,67.25 L472.28,67.24 L472.88,67.22 L473.48,67.20 L474.08,67.18 L474.68,67.16 L475.28,67.13 L475.88,67.11 L476.48,67.08 L477.08,67.05 L477.68,67.01 L478.28,66.98 L478.88,66.94 L479.48,66.90 L480.08,66.86 L480.68,66.81 L481.27,66.77 L481.87,66.72 L482.47,66.67 L483.07,66.62 L483.66,66.56 L484.26,66.51 L484.86,66.45 L485.45,66.39 L486.05,66.33 L486.65,66.26 L487.24,66.20 L487.84,66.13 L488.44,66.06 L489.03,65.99 L489.63,65.92 L490.22,65.84 L490.82,65.76 L491.41,65.69 L492.01,65.61 L492.60,65.53 L493.19,65.45 L493.79,65.36 L494.38,65.28 L494.98,65.19 L495.57,65.10 L496.16,65.01 L496.76,64.92 L497.35,64.83 L497.94,64.74 L498.54,64.64 L499.13,64.55 L499.72,64.45 L500.32,64.35 L500.91,64.25 L501.50,64.15 L502.09,64.05 L502.69,63.95 L503.28,63.84 L503.87,63.74 L504.46,63.63 L505.05,63.53 L505.64,63.42 L506.24,63.31 L506.83,63.20 L507.42,63.09 L508.01,62.98 L508.60,62.87 L509.19,62.76 L509.78,62.64 L510.38,62.53 L510.97,62.42 L511.56,62.30 L512.15,62.19 L512.74,62.07 L513.33,61.95 L513.92,61.84 L514.51,61.72 L515.10,61.60 L515.69,61.48 L516.28,61.36 L516.87,61.24 L517.46,61.12 L518.05,61.00 L518.64,60.88 L519.23,60.76 L519.82,60.64 L520.41,60.52 L521.00,60.40 L521.59,60.28 L522.18,60.16 L522.77,60.04 L523.36,59.92 L523.95,59.80 L524.55,59.68 L525.14,59.56 L525.73,59.44 L526.32,59.31 L526.91,59.19 L527.50,59.07 L528.09,58.95 L528.68,58.83 L529.27,58.71 L529.86,58.59 L530.45,58.47 L531.04,58.35 L531.63,58.23 L532.22,58.11 L532.81,57.99 L533.40,57.87 L533.99,57.75 L534.58,57.63 L535.17,57.50 L535.76,57.38 L536.35,57.26 L536.94,57.14 L537.53,57.02 L538.12,56.90 L538.71,56.78 L539.30,56.66 L539.89,56.54 L540.48,56.42 L541.07,56.30 L541.66,56.18 L542.25,56.06 L542.84,55.94 L543.43,55.82 L544.02,55.71 L544.61,55.59 L545.20,55.47 L545.79,55.35 L546.38,55.23 L546.97,55.11 L547.56,54.99 L548.15,54.87 L548.74,54.75 L549.33,54.63 L549.92,54.51 L550.51,54.39 L551.10,54.28 L551.69,54.16 L552.28,54.04 L552.87,53.92 L553.46,53.80 L554.05,53.68 L554.64,53.57 L555.23,53.45 L555.82,53.33 L556.41,53.21 L557.00,53.09 L557.59,52.98 L558.18,52.86 L558.77,52.74 L559.36,52.62 L559.95,52.51 L560.54,52.39 L561.13,52.27 L561.72,52.16 L562.31,52.04 L562.90,51.92 L563.49,51.81 L564.08,51.69 L564.67,51.57 L565.26,51.46 L565.85,51.34 L566.44,51.23 L567.03,51.11 L567.62,50.99 L568.21,50.88 L568.81,50.76 L569.40,50.65 L569.99,50.53 L570.58,50.42 L571.17,50.30 L571.76,50.19 L572.35,50.07 L572.94,49.96 L573.53,49.84 L574.12,49.73 L574.71,49.62 L575.30,49.50 L575.89,49.39 L576.48,49.27 L577.07,49.16 L577.66,49.05 L578.26,48.93 L578.85,48.82 L579.44,48.71 L580.03,48.59 L580.62,48.48 L581.21,48.37 L581.80,48.26 L582.39,48.15 L582.98,48.03 L583.57,47.92 L584.16,47.81 L584.76,47.70 L585.35,47.59 L585.94,47.48 L586.53,47.36 L587.12,47.25 L587.71,47.14 L588.30,47.03 L588.89,46.92 L589.49,46.81 L590.08,46.70 L590.67,46.59 L591.26,46.48 L591.85,46.37 L592.44,46.26 L593.03,46.16 L593.63,46.05 L594.22,45.94 L594.81,45.83 L595.40,45.72 L595.99,45.61 L596.58,45.51 L597.18,45.40 L597.77,45.29 L598.36,45.18 L598.95,45.08 L599.54,44.97 L600.13,44.86 L600.73,44.76 L601.32,44.65 L601.91,44.54 L602.50,44.44 L603.09,44.33 L603.69,44.23 L604.28,44.12 L604.87,44.02 L605.46,43.91 L606.05,43.81 L606.65,43.70 L607.24,43.60 L607.83,43.50 L608.42,43.39 L609.02,43.29 L609.61,43.19 L610.20,43.08 L610.79,42.98 L611.39,42.88 L611.98,42.78 L612.57,42.67 L613.16,42.57 L613.76,42.47 L614.35,42.37 L614.94,42.27 L615.54,42.17 L616.13,42.07 L616.72,41.97 L617.31,41.87 L617.91,41.77 L618.50,41.67 L619.09,41.57 L619.69,41.47 L620.28,41.37 L620.87,41.27 L621.47,41.17 L622.06,41.08 L622.65,40.98 L623.25,40.88 L623.84,40.78 L624.43,40.69 L625.03,40.59 L625.62,40.49 L626.22,40.40 L626.81,40.30 L627.40,40.21 L628.00,40.11 L628.59,40.02 L629.18,39.92 L629.78,39.83 L630.37,39.73 L630.97,39.64 L631.56,39.55 L632.16,39.45 L632.75,39.36 L633.34,39.27 L633.94,39.17 L634.53,39.08 L635.13,38.99 L635.72,38.90 L636.32,38.81 L636.91,38.72 L637.51,38.62 L638.10,38.53 L638.70,38.44 L639.29,38.35 L639.89,38.27 L640.48,38.18 L641.08,38.09 L641.67,38.00 L642.27,37.91 L642.86,37.82 L643.46,37.73 L644.05,37.65 L644.65,37.56 L645.24,37.47 L645.84,37.39 L646.43,37.30 L647.03,37.22 L647.62,37.13 L648.22,37.04 L648.82,36.96 L649.41,36.88 L650.01,36.79 L650.60,36.71 L651.20,36.62 L651.80,36.54 L652.39,36.46 L652.99,36.38 L653.59,36.29 L654.18,36.21 L654.78,36.13 L655.37,36.05 L655.97,35.97 L656.57,35.89 L657.16,35.81 L657.76,35.73 L658.36,35.65 L658.96,35.57 L659.55,35.49 L660.15,35.41 L660.75,35.34 L661.34,35.26 L661.94,35.18 L662.54,35.10 L663.14,35.03 L663.73,34.95 L664.33,34.88 L664.93,34.80 L665.53,34.72 L666.12,34.65 L666.72,34.58 L667.32,34.50 L667.92,34.43 L668.52,34.36 L669.11,34.28 L669.71,34.21 L670.31,34.14 L670.91,34.07 L671.51,34.00" fill="none" stroke="#ff8000" stroke-width="1.30" stroke-linejoin="round" stroke-linecap="round" />
<path d="M446.99,143.48 L447.60,143.43 L448.21,143.37 L448.83,143.30 L449.43,143.23 L450.04,143.15 L450.64,143.06 L451.24,142.96 L451.84,142.85 L452.43,142.74 L453.03,142.62 L453.62,142.50 L454.20,142.37 L454.79,142.23 L455.37,142.09 L455.96,141.94 L456.54,141.78 L457.11,141.62 L457.69,141.45 L458.26,141.27 L458.83,141.09 L459.40,140.91 L459.97,140.72 L460.54,140.52 L461.10,140.32 L461.66,140.12 L462.22,139.91 L462.78,139.69 L463.34,139.48 L463.90,139.25 L464.45,139.02 L465.00,138.79 L465.55,138.56 L466.10,138.32 L466.65,138.08 L467.20,137.83 L467.75,137.58 L468.29,137.33 L468.83,137.07 L469.38,136.81 L469.92,136.55 L470.46,136.29 L471.00,136.02 L471.53,135.75 L472.07,135.48 L472.61,135.21 L473.14,134.93 L473.68,134.65 L474.21,134.38 L474.75,134.10 L475.28,133.81 L475.81,133.53 L476.34,133.24 L476.87,132.96 L477.40,132.67 L477.93,132.38 L478.46,132.09 L478.99,131.80 L479.52,131.51 L480.04,131.21 L480.57,130.92 L481.10,130.62 L481.62,130.33 L482.15,130.03 L482.67,129.73 L483.20,129.43 L483.72,129.13 L484.25,128.83 L484.77,128.53 L485.30,128.23 L485.82,127.93 L486.35,127.63 L486.87,127.33 L487.39,127.03 L487.92,126.73 L488.44,126.42 L488.96,126.12 L489.49,125.82 L490.01,125.52 L490.54,125.22 L491.06,124.91 L491.58,124.61 L492.11,124.31 L492.63,124.01 L493.16,123.71 L493.68,123.41 L494.21,123.11 L494.73,122.81 L495.26,122.51 L495.78,122.21 L496.31,121.92 L496.84,121.62 L497.36,121.33 L497.89,121.03 L498.42,120.74 L498.95,120.45 L499.48,120.15 L500.01,119.86 L500.54,119.58 L501.07,119.29 L501.60,119.00 L502.13,118.72 L502.66,118.43 L503.20,118.15 L503.73,117.87 L504.27,117.59 L504.80,117.31 L505.34,117.04 L505.88,116.76 L506.41,116.49 L506.95,116.22 L507.49,115.95 L508.03,115.68 L508.57,115.41 L509.11,115.15 L509.66,114.88 L510.20,114.62 L510.74,114.36 L511.29,114.10 L511.83,113.84 L512.37,113.58 L512.92,113.33 L513.47,113.07 L514.01,112.82 L514.56,112.56 L515.11,112.31 L515.66,112.06 L516.20,111.81 L516.75,111.56 L517.30,111.32 L517.85,111.07 L518.40,110.83 L518.95,110.58 L519.51,110.34 L520.06,110.10 L520.61,109.86 L521.16,109.62 L521.72,109.38 L522.27,109.14 L522.82,108.90 L523.38,108.67 L523.93,108.43 L524.49,108.20 L525.04,107.97 L525.60,107.73 L526.16,107.50 L526.71,107.27 L527.27,107.04 L527.83,106.82 L528.39,106.59 L528.94,106.36 L529.50,106.14 L530.06,105.91 L530.62,105.69 L531.18,105.47 L531.74,105.24 L532.30,105.02 L532.86,104.80 L533.42,104.58 L533.98,104.36 L534.55,104.15 L535.11,103.93 L535.67,103.71 L536.23,103.50 L536.80,103.28 L537.36,103.07 L537.92,102.86 L538.49,102.64 L539.05,102.43 L539.62,102.22 L540.18,102.01 L540.75,101.80 L541.31,101.59 L541.88,101.39 L542.44,101.18 L543.01,100.97 L543.58,100.77 L544.14,100.56 L544.71,100.36 L545.28,100.15 L545.85,99.95 L546.41,99.75 L546.98,99.54 L547.55,99.34 L548.12,99.14 L548.69,98.94 L549.26,98.74 L549.82,98.54 L550.39,98.34 L550.96,98.15 L551.53,97.95 L552.10,97.75 L552.67,97.55 L553.24,97.36 L553.82,97.16 L554.39,96.97 L554.96,96.77 L555.53,96.58 L556.10,96.39 L556.67,96.19 L557.24,96.00 L557.82,95.81 L558.39,95.62 L558.96,95.43 L559.53,95.24 L560.10,95.05 L560.68,94.86 L561.25,94.67 L561.82,94.48 L562.40,94.29 L562.97,94.10 L563.54,93.92 L564.12,93.73 L564.69,93.54 L565.26,93.35 L565.84,93.17 L566.41,92.98 L566.99,92.80 L567.56,92.61 L568.13,92.43 L568.71,92.24 L569.28,92.06 L569.86,91.87 L570.43,91.69 L571.01,91.50 L571.58,91.32 L572.16,91.14 L572.73,90.95 L573.30,90.77 L573.88,90.59 L574.45,90.41 L575.03,90.22 L575.60,90.04 L576.18,89.86 L576.76,89.68 L577.33,89.50 L577.91,89.32 L578.48,89.14 L579.06,88.95 L579.63,88.77 L580.21,88.59 L580.78,88.41 L581.36,88.23 L581.93,88.05 L582.51,87.87 L583.08,87.69 L583.66,87.51 L584.23,87.33 L584.81,87.15 L585.39,86.98 L585.96,86.80 L586.54,86.62 L587.11,86.44 L587.69,86.27 L588.27,86.09 L588.84,85.91 L589.42,85.74 L589.99,85.56 L590.57,85.39 L591.15,85.21 L591.72,85.04 L592.30,84.87 L592.88,84.69 L593.46,84.52 L594.03,84.35 L594.61,84.18 L595.19,84.01 L595.77,83.84 L596.35,83.67 L596.92,83.50 L597.50,83.34 L598.08,83.17 L598.66,83.00 L599.24,82.84 L599.82,82.67 L600.40,82.51 L600.98,82.35 L601.56,82.18 L602.14,82.02 L602.72,81.86 L603.30,81.70 L603.88,81.54 L604.46,81.39 L605.05,81.23 L605.63,81.07 L606.21,80.92 L606.79,80.77 L607.37,80.61 L607.96,80.46 L608.54,80.31 L609.12,80.16 L609.71,80.01 L610.29,79.86 L610.88,79.71 L611.46,79.56 L612.05,79.42 L612.63,79.27 L613.21,79.12 L613.80,78.98 L614.38,78.83 L614.97,78.69 L615.56,78.54 L616.14,78.40 L616.73,78.26 L617.31,78.11 L617.90,77.97 L618.48,77.83 L619.07,77.69 L619.66,77.54 L620.24,77.40 L620.83,77.26 L621.42,77.12 L622.00,76.98 L622.59,76.84 L623.17,76.69 L623.76,76.55 L624.35,76.41 L624.93,76.27 L625.52,76.13 L626.11,75.99 L626.69,75.85 L627.28,75.71 L627.87,75.56 L628.45,75.42 L629.04,75.28 L629.63,75.14 L630.21,74.99 L630.80,74.85 L631.38,74.71 L631.97,74.56 L632.56,74.42 L633.14,74.27 L633.73,74.13 L634.31,73.99 L634.90,73.84 L635.48,73.70 L636.07,73.55 L636.66,73.41 L637.24,73.26 L637.83,73.12 L638.41,72.98 L639.00,72.83 L639.58,72.69 L640.17,72.55 L640.76,72.40 L641.34,72.26 L641.93,72.12 L642.51,71.98 L643.10,71.83 L643.69,71.69 L644.27,71.55 L644.86,71.41 L645.45,71.28 L646.03,71.14 L646.62,71.00 L647.21,70.86 L647.80,70.73 L648.38,70.59 L648.97,70.46 L649.56,70.32 L650.15,70.19 L650.73,70.06 L651.32,69.93 L651.91,69.80 L652.50,69.67 L653.09,69.54 L653.68,69.42 L654.27,69.29 L654.86,69.17 L655.45,69.04 L656.04,68.92 L656.63,68.80 L657.22,68.68 L657.81,68.57 L658.40,68.45 L658.99,68.34 L659.58,68.22 L660.17,68.11 L660.77,68.00 L661.36,67.89 L661.95,67.79 L662.54,67.68 L663.14,67.58 L663.73,67.48 L664.33,67.38 L664.92,67.28 L665.52,67.18 L666.11,67.09 L666.71,67.00 L667.30,66.91 L667.90,66.82 L668.50,66.74 L669.09,66.65 L669.69,66.57 L670.29,66.49 L670.89,66.41 L671.49,66.34" fill="none" stroke="#8b0000" stroke-width="1.30" stroke-linejoin="round" stroke-linecap="round" />
<path d="M447.96,195.69 L448.04,196.27 L448.12,196.86 L448.20,197.44 L448.29,198.03 L448.37,198.62 L448.46,199.21 L448.55,199.81 L448.65,200.40 L448.75,200.99 L448.85,201.59 L448.95,202.18 L449.06,202.78 L449.17,203.37 L449.29,203.97 L449.41,204.57 L449.53,205.16 L449.66,205.76 L449.79,206.35 L449.92,206.95 L450.06,207.54 L450.21,208.13 L450.36,208.72 L450.51,209.31 L450.67,209.90 L450.83,210.49 L451.00,211.07 L451.18,211.66 L451.35,212.24 L451.54,212.82 L451.73,213.39 L451.93,213.97 L452.13,214.54 L452.34,215.11 L452.55,215.67 L452.77,216.24 L453.00,216.80 L453.23,217.35 L453.47,217.91 L453.72,218.46 L453.98,219.00 L454.24,219.54 L454.51,220.08 L454.78,220.62 L455.06,221.14 L455.35,221.67 L455.65,222.19 L455.96,222.70 L456.27,223.22 L456.59,223.72 L456.91,224.22 L457.25,224.72 L457.59,225.21 L457.94,225.70 L458.29,226.18 L458.65,226.66 L459.02,227.13 L459.39,227.60 L459.77,228.06 L460.16,228.51 L460.56,228.96 L460.96,229.41 L461.36,229.85 L461.77,230.29 L462.19,230.72 L462.61,231.15 L463.04,231.57 L463.47,231.99 L463.90,232.40 L464.34,232.81 L464.79,233.21 L465.23,233.62 L465.69,234.01 L466.14,234.40 L466.60,234.79 L467.06,235.18 L467.52,235.56 L467.99,235.93 L468.45,236.31 L468.92,236.68 L469.40,237.04 L469.87,237.40 L470.35,237.76 L470.83,238.11 L471.32,238.46 L471.80,238.81 L472.29,239.15 L472.78,239.49 L473.28,239.83 L473.77,240.16 L474.27,240.49 L474.77,240.81 L475.28,241.13 L475.78,241.45 L476.29,241.76 L476.80,242.07 L477.31,242.38 L477.82,242.69 L478.34,242.99 L478.86,243.28 L479.38,243.58 L479.90,243.87 L480.42,244.15 L480.95,244.44 L481.48,244.72 L482.01,245.00 L482.54,245.27 L483.08,245.54 L483.61,245.81 L484.15,246.07 L484.69,246.34 L485.23,246.59 L485.77,246.85 L486.32,247.10 L486.86,247.35 L487.41,247.60 L487.96,247.84 L488.51,248.08 L489.06,248.32 L489.62,248.55 L490.17,248.78 L490.73,249.01 L491.29,249.24 L491.85,249.46 L492.41,249.68 L492.97,249.90 L493.54,250.11 L494.10,250.33 L494.67,250.54 L495.24,250.74 L495.81,250.95 L496.38,251.15 L496.95,251.35 L497.52,251.54 L498.09,251.74 L498.67,251.93 L499.24,252.11 L499.82,252.30 L500.40,252.48 L500.98,252.66 L501.56,252.84 L502.14,253.02 L502.72,253.19 L503.30,253.36 L503.88,253.53 L504.47,253.70 L505.05,253.86 L505.64,254.03 L506.22,254.19 L506.81,254.34 L507.40,254.50 L507.98,254.65 L508.57,254.80 L509.16,254.95 L509.75,255.10 L510.34,255.24 L510.93,255.39 L511.52,255.53 L512.11,255.67 L512.71,255.80 L513.30,255.94 L513.89,256.07 L514.48,256.20 L515.07,256.33 L515.67,256.46 L516.26,256.58 L516.85,256.71 L517.45,256.83 L518.04,256.95 L518.64,257.06 L519.23,257.18 L519.82,257.30 L520.42,257.41 L521.01,257.52 L521.61,257.63 L522.20,257.74 L522.79,257.84 L523.39,257.95 L523.98,258.05 L524.58,258.15 L525.17,258.25 L525.77,258.35 L526.36,258.44 L526.95,258.54 L527.55,258.63 L528.14,258.73 L528.74,258.82 L529.33,258.91 L529.93,258.99 L530.52,259.08 L531.12,259.16 L531.71,259.25 L532.31,259.33 L532.90,259.41 L533.50,259.49 L534.09,259.57 L534.69,259.65 L535.28,259.72 L535.88,259.80 L536.47,259.87 L537.07,259.94 L537.66,260.01 L538.26,260.08 L538.86,260.15 L539.45,260.22 L540.05,260.29 L540.64,260.35 L541.24,260.42 L541.84,260.48 L542.43,260.54 L543.03,260.60 L543.62,260.66 L544.22,260.72 L544.82,260.78 L545.41,260.84 L546.01,260.89 L546.60,260.95 L547.20,261.00 L547.80,261.06 L548.39,261.11 L548.99,261.16 L549.59,261.21 L550.18,261.26 L550.78,261.31 L551.38,261.36 L551.97,261.41 L552.57,261.45 L553.17,261.50 L553.77,261.55 L554.36,261.59 L554.96,261.64 L555.56,261.68 L556.16,261.72 L556.75,261.77 L557.35,261.81 L557.95,261.85 L558.55,261.89 L559.14,261.93 L559.74,261.97 L560.34,262.01 L560.94,262.05 L561.53,262.09 L562.13,262.12 L562.73,262.16 L563.33,262.20 L563.93,262.24 L564.53,262.27 L565.12,262.31 L565.72,262.34 L566.32,262.38 L566.92,262.41 L567.52,262.45 L568.12,262.48 L568.71,262.52 L569.31,262.55 L569.91,262.58 L570.51,262.62 L571.11,262.65 L571.71,262.68 L572.31,262.72 L572.91,262.75 L573.51,262.78 L574.11,262.82 L574.71,262.85 L575.31,262.88 L575.91,262.91 L576.50,262.95 L577.10,262.98 L577.70,263.01 L578.30,263.04 L578.90,263.08 L579.50,263.11 L580.10,263.14 L580.70,263.18 L581.30,263.21 L581.90,263.24 L582.51,263.28 L583.11,263.31 L583.71,263.34 L584.31,263.38 L584.91,263.41 L585.51,263.45 L586.11,263.48 L586.71,263.52 L587.31,263.55 L587.91,263.59 L588.51,263.62 L589.11,263.66 L589.71,263.69 L590.32,263.73 L590.92,263.77 L591.52,263.80 L592.12,263.84 L592.72,263.88 L593.32,263.91 L593.92,263.95 L594.53,263.99 L595.13,264.02 L595.73,264.06 L596.33,264.10 L596.93,264.14 L597.53,264.17 L598.14,264.21 L598.74,264.25 L599.34,264.28 L599.94,264.32 L600.54,264.36 L601.15,264.39 L601.75,264.43 L602.35,264.47 L602.95,264.50 L603.55,264.54 L604.16,264.57 L604.76,264.61 L605.36,264.64 L605.96,264.68 L606.56,264.71 L607.17,264.75 L607.77,264.78 L608.37,264.82 L608.97,264.85 L609.57,264.88 L610.18,264.91 L610.78,264.95 L611.38,264.98 L611.98,265.01 L612.58,265.04 L613.19,265.07 L613.79,265.10 L614.39,265.13 L614.99,265.16 L615.59,265.19 L616.20,265.22 L616.80,265.25 L617.40,265.28 L618.00,265.30 L618.60,265.33 L619.21,265.35 L619.81,265.38 L620.41,265.40 L621.01,265.43 L621.61,265.45 L622.21,265.47 L622.81,265.50 L623.42,265.52 L624.02,265.54 L624.62,265.56 L625.22,265.58 L625.82,265.59 L626.42,265.61 L627.02,265.63 L627.62,265.64 L628.22,265.66 L628.83,265.67 L629.43,265.69 L630.03,265.70 L630.63,265.71 L631.23,265.72 L631.83,265.73 L632.43,265.74 L633.03,265.75 L633.63,265.76 L634.23,265.76 L634.83,265.77 L635.43,265.78 L636.03,265.78 L636.63,265.78 L637.23,265.79 L637.83,265.79 L638.43,265.79 L639.03,265.79 L639.63,265.79 L640.23,265.79 L640.83,265.79 L641.43,265.79 L642.03,265.79 L642.63,265.79 L643.23,265.78 L643.83,265.78 L644.43,265.78 L645.03,265.77 L645.63,265.77 L646.23,265.76 L646.83,265.76 L647.43,265.75 L648.03,265.75 L648.63,265.74 L649.23,265.74 L649.83,265.73 L650.43,265.72 L651.03,265.72 L651.63,265.71 L652.23,265.71 L652.83,265.70 L653.43,265.69 L654.03,265.69 L654.63,265.68 L655.23,265.67 L655.83,265.67 L656.43,265.66 L657.03,265.65 L657.63,265.65 L658.24,265.64 L658.84,265.64 L659.44,265.63 L660.04,265.63 L660.64,265.62 L661.24,265.62 L661.85,265.61 L662.45,265.61 L663.05,265.60 L663.65,265.60 L664.25,265.60 L664.86,265.59 L665.46,265.59 L666.06,265.59 L666.67,265.59 L667.27,265.59 L667.87,265.59 L668.48,265.59 L669.08,265.59 L669.69,265.59 L670.29,265.59 L670.90,265.60 L671.50,265.60" fill="none" stroke="#008080" stroke-width="1.60" stroke-linejoin="round" stroke-linecap="round" />
<path d="M446.99,338.65 L447.56,338.93 L448.13,339.17 L448.70,339.38 L449.28,339.55 L449.86,339.70 L450.44,339.81 L451.02,339.90 L451.61,339.97 L452.20,340.01 L452.79,340.04 L453.39,340.04 L453.98,340.03 L454.58,340.00 L455.18,339.96 L455.78,339.91 L456.38,339.85 L456.98,339.78 L457.58,339.71 L458.18,339.64 L458.77,339.56 L459.37,339.48 L459.97,339.41 L460.57,339.32 L461.17,339.24 L461.77,339.16 L462.36,339.07 L462.96,338.99 L463.56,338.90 L464.16,338.81 L464.75,338.72 L465.35,338.63 L465.94,338.54 L466.54,338.45 L467.13,338.35 L467.73,338.26 L468.33,338.16 L468.92,338.06 L469.51,337.96 L470.11,337.86 L470.70,337.76 L471.30,337.66 L471.89,337.56 L472.48,337.46 L473.08,337.35 L473.67,337.25 L474.26,337.14 L474.86,337.04 L475.45,336.93 L476.04,336.82 L476.64,336.72 L477.23,336.61 L477.82,336.50 L478.41,336.39 L479.00,336.28 L479.60,336.17 L480.19,336.06 L480.78,335.95 L481.37,335.84 L481.96,335.73 L482.56,335.61 L483.15,335.50 L483.74,335.39 L484.33,335.28 L484.92,335.16 L485.51,335.05 L486.10,334.94 L486.70,334.82 L487.29,334.71 L487.88,334.60 L488.47,334.48 L489.06,334.37 L489.65,334.26 L490.24,334.14 L490.83,334.03 L491.43,333.91 L492.02,333.80 L492.61,333.68 L493.20,333.57 L493.79,333.45 L494.38,333.34 L494.97,333.22 L495.56,333.11 L496.15,332.99 L496.74,332.88 L497.33,332.76 L497.92,332.65 L498.52,332.53 L499.11,332.41 L499.70,332.30 L500.29,332.18 L500.88,332.06 L501.47,331.95 L502.06,331.83 L502.65,331.72 L503.24,331.60 L503.83,331.48 L504.42,331.36 L505.01,331.25 L505.60,331.13 L506.19,331.01 L506.78,330.90 L507.37,330.78 L507.96,330.66 L508.55,330.54 L509.14,330.43 L509.73,330.31 L510.32,330.19 L510.91,330.07 L511.50,329.95 L512.10,329.84 L512.69,329.72 L513.28,329.60 L513.87,329.48 L514.46,329.36 L515.05,329.25 L515.64,329.13 L516.23,329.01 L516.82,328.89 L517.41,328.77 L518.00,328.65 L518.59,328.53 L519.18,328.42 L519.77,328.30 L520.36,328.18 L520.95,328.06 L521.54,327.94 L522.13,327.82 L522.72,327.70 L523.31,327.58 L523.90,327.47 L524.49,327.35 L525.08,327.23 L525.67,327.11 L526.26,326.99 L526.85,326.87 L527.44,326.75 L528.03,326.63 L528.62,326.51 L529.21,326.39 L529.80,326.27 L530.39,326.16 L530.98,326.04 L531.57,325.92 L532.16,325.80 L532.75,325.68 L533.34,325.56 L533.93,325.44 L534.52,325.32 L535.11,325.20 L535.70,325.08 L536.29,324.96 L536.88,324.85 L537.47,324.73 L538.06,324.61 L538.65,324.49 L539.24,324.37 L539.83,324.25 L540.42,324.13 L541.01,324.01 L541.60,323.90 L542.19,323.78 L542.78,323.66 L543.37,323.54 L543.96,323.42 L544.55,323.30 L545.14,323.18 L545.73,323.07 L546.32,322.95 L546.91,322.83 L547.50,322.71 L548.10,322.60 L548.69,322.48 L549.28,322.36 L549.87,322.24 L550.46,322.13 L551.05,322.01 L551.64,321.89 L552.23,321.78 L552.82,321.66 L553.41,321.54 L554.00,321.43 L554.59,321.31 L555.18,321.19 L555.77,321.08 L556.37,320.96 L556.96,320.85 L557.55,320.73 L558.14,320.62 L558.73,320.50 L559.32,320.39 L559.91,320.27 L560.50,320.16 L561.09,320.05 L561.68,319.93 L562.28,319.82 L562.87,319.71 L563.46,319.59 L564.05,319.48 L564.64,319.37 L565.23,319.26 L565.82,319.14 L566.42,319.03 L567.01,318.92 L567.60,318.81 L568.19,318.70 L568.78,318.59 L569.37,318.48 L569.97,318.37 L570.56,318.26 L571.15,318.15 L571.74,318.04 L572.33,317.93 L572.93,317.82 L573.52,317.71 L574.11,317.61 L574.70,317.50 L575.30,317.39 L575.89,317.28 L576.48,317.18 L577.07,317.07 L577.66,316.97 L578.26,316.86 L578.85,316.76 L579.44,316.65 L580.04,316.55 L580.63,316.44 L581.22,316.34 L581.81,316.24 L582.41,316.13 L583.00,316.03 L583.59,315.93 L584.19,315.83 L584.78,315.73 L585.37,315.63 L585.97,315.53 L586.56,315.43 L587.15,315.33 L587.75,315.23 L588.34,315.13 L588.94,315.03 L589.53,314.93 L590.12,314.84 L590.72,314.74 L591.31,314.64 L591.91,314.55 L592.50,314.45 L593.09,314.36 L593.69,314.26 L594.28,314.17 L594.88,314.08 L595.47,313.98 L596.07,313.89 L596.66,313.80 L597.26,313.71 L597.85,313.62 L598.45,313.53 L599.04,313.44 L599.64,313.35 L600.23,313.26 L600.83,313.17 L601.42,313.08 L602.02,313.00 L602.61,312.91 L603.21,312.82 L603.81,312.74 L604.40,312.65 L605.00,312.57 L605.59,312.49 L606.19,312.40 L606.79,312.32 L607.38,312.24 L607.98,312.16 L608.58,312.08 L609.17,312.00 L609.77,311.92 L610.37,311.84 L610.96,311.76 L611.56,311.68 L612.16,311.60 L612.75,311.53 L613.35,311.45 L613.95,311.38 L614.55,311.30 L615.14,311.23 L615.74,311.16 L616.34,311.08 L616.94,311.01 L617.54,310.94 L618.13,310.87 L618.73,310.80 L619.33,310.73 L619.93,310.66 L620.53,310.60 L621.13,310.53 L621.72,310.46 L622.32,310.39 L622.92,310.33 L623.52,310.26 L624.12,310.20 L624.72,310.13 L625.32,310.07 L625.92,310.01 L626.52,309.94 L627.11,309.88 L627.71,309.82 L628.31,309.76 L628.91,309.70 L629.51,309.63 L630.11,309.57 L630.71,309.51 L631.31,309.45 L631.91,309.40 L632.51,309.34 L633.11,309.28 L633.71,309.22 L634.31,309.16 L634.91,309.11 L635.51,309.05 L636.11,308.99 L636.71,308.94 L637.31,308.88 L637.91,308.82 L638.51,308.77 L639.11,308.71 L639.71,308.66 L640.31,308.60 L640.91,308.55 L641.51,308.49 L642.11,308.44 L642.71,308.39 L643.31,308.33 L643.91,308.28 L644.51,308.23 L645.11,308.17 L645.71,308.12 L646.31,308.07 L646.91,308.01 L647.51,307.96 L648.11,307.91 L648.71,307.86 L649.31,307.80 L649.91,307.75 L650.51,307.70 L651.11,307.65 L651.71,307.60 L652.31,307.54 L652.91,307.49 L653.51,307.44 L654.11,307.39 L654.71,307.34 L655.31,307.28 L655.91,307.23 L656.51,307.18 L657.11,307.13 L657.71,307.08 L658.31,307.03 L658.91,306.97 L659.51,306.92 L660.11,306.87 L660.71,306.82 L661.31,306.76 L661.91,306.71 L662.51,306.66 L663.11,306.61 L663.71,306.55 L664.31,306.50 L664.91,306.45 L665.51,306.40 L666.10,306.34 L666.70,306.29 L667.30,306.23 L667.90,306.18 L668.50,306.13 L669.10,306.07 L669.70,306.02 L670.29,305.96 L670.89,305.91 L671.49,305.85" fill="none" stroke="#ffcc00" stroke-width="1.50" stroke-linejoin="round" stroke-linecap="round" />
<path d="M447.06,354.33 L447.65,354.24 L448.24,354.15 L448.83,354.05 L449.42,353.94 L450.01,353.84 L450.60,353.73 L451.19,353.62 L451.78,353.50 L452.37,353.38 L452.95,353.26 L453.54,353.14 L454.12,353.01 L454.71,352.88 L455.29,352.75 L455.88,352.62 L456.46,352.48 L457.04,352.34 L457.63,352.20 L458.21,352.06 L458.79,351.91 L459.37,351.77 L459.95,351.62 L460.53,351.47 L461.11,351.31 L461.69,351.16 L462.27,351.00 L462.85,350.84 L463.43,350.68 L464.01,350.52 L464.59,350.36 L465.16,350.19 L465.74,350.03 L466.32,349.86 L466.90,349.69 L467.47,349.52 L468.05,349.35 L468.63,349.18 L469.20,349.01 L469.78,348.83 L470.35,348.66 L470.93,348.48 L471.50,348.31 L472.08,348.13 L472.66,347.95 L473.23,347.78 L473.81,347.60 L474.38,347.42 L474.96,347.24 L475.53,347.06 L476.11,346.89 L476.68,346.71 L477.26,346.53 L477.83,346.35 L478.41,346.17 L478.98,345.99 L479.56,345.81 L480.13,345.64 L480.71,345.46 L481.29,345.28 L481.86,345.10 L482.44,344.93 L483.01,344.75 L483.59,344.58 L484.17,344.40 L484.74,344.23 L485.32,344.06 L485.90,343.89 L486.48,343.72 L487.05,343.55 L487.63,343.38 L488.21,343.21 L488.79,343.04 L489.37,342.88 L489.95,342.71 L490.53,342.55 L491.11,342.38 L491.68,342.22 L492.26,342.06 L492.84,341.89 L493.42,341.73 L494.00,341.57 L494.58,341.41 L495.17,341.26 L495.75,341.10 L496.33,340.94 L496.91,340.79 L497.49,340.63 L498.07,340.48 L498.65,340.32 L499.24,340.17 L499.82,340.02 L500.40,339.86 L500.98,339.71 L501.56,339.56 L502.15,339.41 L502.73,339.26 L503.31,339.11 L503.90,338.97 L504.48,338.82 L505.06,338.67 L505.65,338.53 L506.23,338.38 L506.82,338.24 L507.40,338.09 L507.98,337.95 L508.57,337.81 L509.15,337.66 L509.74,337.52 L510.32,337.38 L510.91,337.24 L511.49,337.10 L512.08,336.96 L512.67,336.82 L513.25,336.69 L513.84,336.55 L514.42,336.41 L515.01,336.28 L515.59,336.14 L516.18,336.00 L516.77,335.87 L517.35,335.74 L517.94,335.60 L518.53,335.47 L519.11,335.34 L519.70,335.20 L520.29,335.07 L520.88,334.94 L521.46,334.81 L522.05,334.68 L522.64,334.55 L523.23,334.42 L523.81,334.29 L524.40,334.16 L524.99,334.04 L525.58,333.91 L526.17,333.78 L526.76,333.65 L527.34,333.53 L527.93,333.40 L528.52,333.28 L529.11,333.15 L529.70,333.03 L530.29,332.90 L530.88,332.78 L531.47,332.65 L532.06,332.53 L532.64,332.41 L533.23,332.29 L533.82,332.16 L534.41,332.04 L535.00,331.92 L535.59,331.80 L536.18,331.68 L536.77,331.56 L537.36,331.44 L537.95,331.32 L538.54,331.20 L539.13,331.08 L539.72,330.96 L540.31,330.84 L540.90,330.72 L541.49,330.60 L542.08,330.49 L542.67,330.37 L543.26,330.25 L543.85,330.14 L544.44,330.02 L545.03,329.90 L545.63,329.79 L546.22,329.67 L546.81,329.56 L547.40,329.44 L547.99,329.33 L548.58,329.21 L549.17,329.10 L549.76,328.99 L550.35,328.88 L550.94,328.76 L551.54,328.65 L552.13,328.54 L552.72,328.43 L553.31,328.32 L553.90,328.20 L554.49,328.09 L555.09,327.98 L555.68,327.87 L556.27,327.76 L556.86,327.66 L557.45,327.55 L558.05,327.44 L558.64,327.33 L559.23,327.22 L559.82,327.12 L560.41,327.01 L561.01,326.90 L561.60,326.79 L562.19,326.69 L562.78,326.58 L563.38,326.48 L563.97,326.37 L564.56,326.27 L565.16,326.16 L565.75,326.06 L566.34,325.96 L566.93,325.85 L567.53,325.75 L568.12,325.65 L568.71,325.55 L569.31,325.44 L569.90,325.34 L570.49,325.24 L571.09,325.14 L571.68,325.04 L572.27,324.94 L572.87,324.84 L573.46,324.74 L574.06,324.64 L574.65,324.54 L575.24,324.45 L575.84,324.35 L576.43,324.25 L577.03,324.15 L577.62,324.06 L578.21,323.96 L578.81,323.87 L579.40,323.77 L580.00,323.67 L580.59,323.58 L581.19,323.48 L581.78,323.39 L582.37,323.30 L582.97,323.20 L583.56,323.11 L584.16,323.02 L584.75,322.93 L585.35,322.83 L585.94,322.74 L586.54,322.65 L587.13,322.56 L587.73,322.47 L588.32,322.38 L588.92,322.29 L589.51,322.20 L590.11,322.11 L590.70,322.02 L591.30,321.94 L591.89,321.85 L592.49,321.76 L593.09,321.67 L593.68,321.59 L594.28,321.50 L594.87,321.41 L595.47,321.33 L596.06,321.24 L596.66,321.16 L597.26,321.07 L597.85,320.99 L598.45,320.91 L599.04,320.82 L599.64,320.74 L600.24,320.66 L600.83,320.58 L601.43,320.50 L602.03,320.41 L602.62,320.33 L603.22,320.25 L603.81,320.17 L604.41,320.09 L605.01,320.01 L605.60,319.93 L606.20,319.86 L606.80,319.78 L607.39,319.70 L607.99,319.62 L608.59,319.55 L609.19,319.47 L609.78,319.39 L610.38,319.32 L610.98,319.24 L611.57,319.17 L612.17,319.09 L612.77,319.02 L613.36,318.94 L613.96,318.87 L614.56,318.80 L615.16,318.73 L615.75,318.65 L616.35,318.58 L616.95,318.51 L617.55,318.44 L618.14,318.37 L618.74,318.30 L619.34,318.23 L619.94,318.16 L620.54,318.09 L621.13,318.02 L621.73,317.95 L622.33,317.89 L622.93,317.82 L623.53,317.75 L624.12,317.69 L624.72,317.62 L625.32,317.55 L625.92,317.49 L626.52,317.42 L627.12,317.36 L627.71,317.30 L628.31,317.23 L628.91,317.17 L629.51,317.11 L630.11,317.04 L630.71,316.98 L631.30,316.92 L631.90,316.86 L632.50,316.80 L633.10,316.74 L633.70,316.68 L634.30,316.62 L634.90,316.56 L635.50,316.50 L636.10,316.44 L636.69,316.38 L637.29,316.33 L637.89,316.27 L638.49,316.21 L639.09,316.16 L639.69,316.10 L640.29,316.05 L640.89,315.99 L641.49,315.94 L642.09,315.88 L642.69,315.83 L643.29,315.78 L643.89,315.72 L644.49,315.67 L645.09,315.62 L645.69,315.57 L646.28,315.52 L646.88,315.47 L647.48,315.42 L648.08,315.37 L648.68,315.32 L649.28,315.27 L649.88,315.22 L650.48,315.17 L651.08,315.13 L651.68,315.08 L652.28,315.03 L652.88,314.99 L653.48,314.94 L654.08,314.89 L654.68,314.85 L655.28,314.80 L655.88,314.76 L656.49,314.72 L657.09,314.67 L657.69,314.63 L658.29,314.59 L658.89,314.55 L659.49,314.51 L660.09,314.46 L660.69,314.42 L661.29,314.38 L661.89,314.34 L662.49,314.31 L663.09,314.27 L663.69,314.23 L664.29,314.19 L664.89,314.15 L665.49,314.12 L666.10,314.08 L666.70,314.04 L667.30,314.01 L667.90,313.97 L668.50,313.94 L669.10,313.90 L669.70,313.87 L670.30,313.84 L670.90,313.80 L671.51,313.77" fill="none" stroke="#c0203a" stroke-width="1.40" stroke-linejoin="round" stroke-linecap="round" />
<line x1="85.50" y1="0.00" x2="85.50" y2="365.00" stroke="#383838" stroke-width="1.15"/>
<line x1="310.50" y1="0.00" x2="310.50" y2="365.00" stroke="#4d4d4d" stroke-width="1.00"/>
<line x1="85.00" y1="0.20" x2="311.00" y2="0.20" stroke="#555" stroke-width="1.00"/>
<line x1="85.00" y1="182.50" x2="311.00" y2="182.50" stroke="#383838" stroke-width="1.10"/>
<line x1="85.00" y1="364.50" x2="311.00" y2="364.50" stroke="#383838" stroke-width="1.10"/>
<line x1="446.50" y1="0.00" x2="446.50" y2="364.00" stroke="#383838" stroke-width="1.15"/>
<line x1="671.50" y1="0.00" x2="671.50" y2="364.00" stroke="#4d4d4d" stroke-width="1.00"/>
<line x1="446.00" y1="0.20" x2="672.00" y2="0.20" stroke="#555" stroke-width="1.00"/>
<line x1="446.00" y1="182.50" x2="672.00" y2="182.50" stroke="#383838" stroke-width="1.10"/>
<line x1="446.00" y1="363.50" x2="672.00" y2="363.50" stroke="#383838" stroke-width="1.10"/>
<line x1="85.50" y1="182.50" x2="85.50" y2="178.50" stroke="#444" stroke-width="1"/>
<line x1="85.50" y1="182.50" x2="85.50" y2="186.50" stroke="#444" stroke-width="1"/>
<line x1="123.00" y1="182.50" x2="123.00" y2="180.50" stroke="#444" stroke-width="1"/>
<line x1="123.00" y1="182.50" x2="123.00" y2="184.50" stroke="#444" stroke-width="1"/>
<line x1="160.50" y1="182.50" x2="160.50" y2="178.50" stroke="#444" stroke-width="1"/>
<line x1="160.50" y1="182.50" x2="160.50" y2="186.50" stroke="#444" stroke-width="1"/>
<line x1="198.00" y1="182.50" x2="198.00" y2="180.50" stroke="#444" stroke-width="1"/>
<line x1="198.00" y1="182.50" x2="198.00" y2="184.50" stroke="#444" stroke-width="1"/>
<line x1="235.50" y1="182.50" x2="235.50" y2="178.50" stroke="#444" stroke-width="1"/>
<line x1="235.50" y1="182.50" x2="235.50" y2="186.50" stroke="#444" stroke-width="1"/>
<line x1="273.00" y1="182.50" x2="273.00" y2="180.50" stroke="#444" stroke-width="1"/>
<line x1="273.00" y1="182.50" x2="273.00" y2="184.50" stroke="#444" stroke-width="1"/>
<line x1="310.50" y1="182.50" x2="310.50" y2="178.50" stroke="#444" stroke-width="1"/>
<line x1="310.50" y1="182.50" x2="310.50" y2="186.50" stroke="#444" stroke-width="1"/>
<line x1="85.50" y1="364.50" x2="85.50" y2="360.50" stroke="#444" stroke-width="1"/>
<line x1="123.00" y1="364.50" x2="123.00" y2="362.50" stroke="#444" stroke-width="1"/>
<line x1="160.50" y1="364.50" x2="160.50" y2="360.50" stroke="#444" stroke-width="1"/>
<line x1="198.00" y1="364.50" x2="198.00" y2="362.50" stroke="#444" stroke-width="1"/>
<line x1="235.50" y1="364.50" x2="235.50" y2="360.50" stroke="#444" stroke-width="1"/>
<line x1="273.00" y1="364.50" x2="273.00" y2="362.50" stroke="#444" stroke-width="1"/>
<line x1="310.50" y1="364.50" x2="310.50" y2="360.50" stroke="#444" stroke-width="1"/>
<line x1="446.50" y1="182.50" x2="446.50" y2="178.50" stroke="#444" stroke-width="1"/>
<line x1="446.50" y1="182.50" x2="446.50" y2="186.50" stroke="#444" stroke-width="1"/>
<line x1="484.00" y1="182.50" x2="484.00" y2="180.50" stroke="#444" stroke-width="1"/>
<line x1="484.00" y1="182.50" x2="484.00" y2="184.50" stroke="#444" stroke-width="1"/>
<line x1="521.50" y1="182.50" x2="521.50" y2="178.50" stroke="#444" stroke-width="1"/>
<line x1="521.50" y1="182.50" x2="521.50" y2="186.50" stroke="#444" stroke-width="1"/>
<line x1="559.00" y1="182.50" x2="559.00" y2="180.50" stroke="#444" stroke-width="1"/>
<line x1="559.00" y1="182.50" x2="559.00" y2="184.50" stroke="#444" stroke-width="1"/>
<line x1="596.50" y1="182.50" x2="596.50" y2="178.50" stroke="#444" stroke-width="1"/>
<line x1="596.50" y1="182.50" x2="596.50" y2="186.50" stroke="#444" stroke-width="1"/>
<line x1="634.00" y1="182.50" x2="634.00" y2="180.50" stroke="#444" stroke-width="1"/>
<line x1="634.00" y1="182.50" x2="634.00" y2="184.50" stroke="#444" stroke-width="1"/>
<line x1="671.50" y1="182.50" x2="671.50" y2="178.50" stroke="#444" stroke-width="1"/>
<line x1="671.50" y1="182.50" x2="671.50" y2="186.50" stroke="#444" stroke-width="1"/>
<line x1="446.50" y1="363.50" x2="446.50" y2="359.50" stroke="#444" stroke-width="1"/>
<line x1="484.00" y1="363.50" x2="484.00" y2="361.50" stroke="#444" stroke-width="1"/>
<line x1="521.50" y1="363.50" x2="521.50" y2="359.50" stroke="#444" stroke-width="1"/>
<line x1="559.00" y1="363.50" x2="559.00" y2="361.50" stroke="#444" stroke-width="1"/>
<line x1="596.50" y1="363.50" x2="596.50" y2="359.50" stroke="#444" stroke-width="1"/>
<line x1="634.00" y1="363.50" x2="634.00" y2="361.50" stroke="#444" stroke-width="1"/>
<line x1="671.50" y1="363.50" x2="671.50" y2="359.50" stroke="#444" stroke-width="1"/>
<line x1="85.50" y1="182.51" x2="87.70" y2="182.51" stroke="#444" stroke-width="0.95"/>
<line x1="85.50" y1="174.93" x2="87.70" y2="174.93" stroke="#444" stroke-width="0.95"/>
<line x1="85.50" y1="169.05" x2="87.70" y2="169.05" stroke="#444" stroke-width="0.95"/>
<line x1="85.50" y1="164.25" x2="87.70" y2="164.25" stroke="#444" stroke-width="0.95"/>
<line x1="85.50" y1="160.18" x2="87.70" y2="160.18" stroke="#444" stroke-width="0.95"/>
<line x1="85.50" y1="156.67" x2="87.70" y2="156.67" stroke="#444" stroke-width="0.95"/>
<line x1="85.50" y1="153.56" x2="87.70" y2="153.56" stroke="#444" stroke-width="0.95"/>
<line x1="85.50" y1="150.79" x2="90.00" y2="150.79" stroke="#444" stroke-width="0.95"/>
<line x1="85.50" y1="132.52" x2="87.70" y2="132.52" stroke="#444" stroke-width="0.95"/>
<line x1="85.50" y1="121.84" x2="87.70" y2="121.84" stroke="#444" stroke-width="0.95"/>
<line x1="85.50" y1="114.26" x2="87.70" y2="114.26" stroke="#444" stroke-width="0.95"/>
<line x1="85.50" y1="108.38" x2="87.70" y2="108.38" stroke="#444" stroke-width="0.95"/>
<line x1="85.50" y1="103.58" x2="87.70" y2="103.58" stroke="#444" stroke-width="0.95"/>
<line x1="85.50" y1="99.51" x2="87.70" y2="99.51" stroke="#444" stroke-width="0.95"/>
<line x1="85.50" y1="96.00" x2="87.70" y2="96.00" stroke="#444" stroke-width="0.95"/>
<line x1="85.50" y1="92.89" x2="87.70" y2="92.89" stroke="#444" stroke-width="0.95"/>
<line x1="85.50" y1="90.12" x2="90.00" y2="90.12" stroke="#444" stroke-width="0.95"/>
<line x1="85.50" y1="71.85" x2="87.70" y2="71.85" stroke="#444" stroke-width="0.95"/>
<line x1="85.50" y1="61.17" x2="87.70" y2="61.17" stroke="#444" stroke-width="0.95"/>
<line x1="85.50" y1="53.59" x2="87.70" y2="53.59" stroke="#444" stroke-width="0.95"/>
<line x1="85.50" y1="47.71" x2="87.70" y2="47.71" stroke="#444" stroke-width="0.95"/>
<line x1="85.50" y1="42.91" x2="87.70" y2="42.91" stroke="#444" stroke-width="0.95"/>
<line x1="85.50" y1="38.84" x2="87.70" y2="38.84" stroke="#444" stroke-width="0.95"/>
<line x1="85.50" y1="35.33" x2="87.70" y2="35.33" stroke="#444" stroke-width="0.95"/>
<line x1="85.50" y1="32.22" x2="87.70" y2="32.22" stroke="#444" stroke-width="0.95"/>
<line x1="85.50" y1="29.45" x2="90.00" y2="29.45" stroke="#444" stroke-width="0.95"/>
<line x1="85.50" y1="11.18" x2="87.70" y2="11.18" stroke="#444" stroke-width="0.95"/>
<line x1="85.50" y1="0.50" x2="87.70" y2="0.50" stroke="#444" stroke-width="0.95"/>
<line x1="85.50" y1="364.43" x2="87.70" y2="364.43" stroke="#444" stroke-width="0.95"/>
<line x1="85.50" y1="362.15" x2="87.70" y2="362.15" stroke="#444" stroke-width="0.95"/>
<line x1="85.50" y1="360.22" x2="87.70" y2="360.22" stroke="#444" stroke-width="0.95"/>
<line x1="85.50" y1="358.55" x2="87.70" y2="358.55" stroke="#444" stroke-width="0.95"/>
<line x1="85.50" y1="357.07" x2="87.70" y2="357.07" stroke="#444" stroke-width="0.95"/>
<line x1="85.50" y1="355.75" x2="90.00" y2="355.75" stroke="#444" stroke-width="0.95"/>
<line x1="85.50" y1="347.07" x2="87.70" y2="347.07" stroke="#444" stroke-width="0.95"/>
<line x1="85.50" y1="341.99" x2="87.70" y2="341.99" stroke="#444" stroke-width="0.95"/>
<line x1="85.50" y1="338.38" x2="87.70" y2="338.38" stroke="#444" stroke-width="0.95"/>
<line x1="85.50" y1="335.58" x2="87.70" y2="335.58" stroke="#444" stroke-width="0.95"/>
<line x1="85.50" y1="333.30" x2="87.70" y2="333.30" stroke="#444" stroke-width="0.95"/>
<line x1="85.50" y1="331.37" x2="87.70" y2="331.37" stroke="#444" stroke-width="0.95"/>
<line x1="85.50" y1="329.70" x2="87.70" y2="329.70" stroke="#444" stroke-width="0.95"/>
<line x1="85.50" y1="328.22" x2="87.70" y2="328.22" stroke="#444" stroke-width="0.95"/>
<line x1="85.50" y1="326.90" x2="90.00" y2="326.90" stroke="#444" stroke-width="0.95"/>
<line x1="85.50" y1="318.22" x2="87.70" y2="318.22" stroke="#444" stroke-width="0.95"/>
<line x1="85.50" y1="313.14" x2="87.70" y2="313.14" stroke="#444" stroke-width="0.95"/>
<line x1="85.50" y1="309.53" x2="87.70" y2="309.53" stroke="#444" stroke-width="0.95"/>
<line x1="85.50" y1="306.73" x2="87.70" y2="306.73" stroke="#444" stroke-width="0.95"/>
<line x1="85.50" y1="304.45" x2="87.70" y2="304.45" stroke="#444" stroke-width="0.95"/>
<line x1="85.50" y1="302.52" x2="87.70" y2="302.52" stroke="#444" stroke-width="0.95"/>
<line x1="85.50" y1="300.85" x2="87.70" y2="300.85" stroke="#444" stroke-width="0.95"/>
<line x1="85.50" y1="299.37" x2="87.70" y2="299.37" stroke="#444" stroke-width="0.95"/>
<line x1="85.50" y1="298.05" x2="90.00" y2="298.05" stroke="#444" stroke-width="0.95"/>
<line x1="85.50" y1="289.37" x2="87.70" y2="289.37" stroke="#444" stroke-width="0.95"/>
<line x1="85.50" y1="284.29" x2="87.70" y2="284.29" stroke="#444" stroke-width="0.95"/>
<line x1="85.50" y1="280.68" x2="87.70" y2="280.68" stroke="#444" stroke-width="0.95"/>
<line x1="85.50" y1="277.88" x2="87.70" y2="277.88" stroke="#444" stroke-width="0.95"/>
<line x1="85.50" y1="275.60" x2="87.70" y2="275.60" stroke="#444" stroke-width="0.95"/>
<line x1="85.50" y1="273.67" x2="87.70" y2="273.67" stroke="#444" stroke-width="0.95"/>
<line x1="85.50" y1="272.00" x2="87.70" y2="272.00" stroke="#444" stroke-width="0.95"/>
<line x1="85.50" y1="270.52" x2="87.70" y2="270.52" stroke="#444" stroke-width="0.95"/>
<line x1="85.50" y1="269.20" x2="90.00" y2="269.20" stroke="#444" stroke-width="0.95"/>
<line x1="85.50" y1="260.52" x2="87.70" y2="260.52" stroke="#444" stroke-width="0.95"/>
<line x1="85.50" y1="255.44" x2="87.70" y2="255.44" stroke="#444" stroke-width="0.95"/>
<line x1="85.50" y1="251.83" x2="87.70" y2="251.83" stroke="#444" stroke-width="0.95"/>
<line x1="85.50" y1="249.03" x2="87.70" y2="249.03" stroke="#444" stroke-width="0.95"/>
<line x1="85.50" y1="246.75" x2="87.70" y2="246.75" stroke="#444" stroke-width="0.95"/>
<line x1="85.50" y1="244.82" x2="87.70" y2="244.82" stroke="#444" stroke-width="0.95"/>
<line x1="85.50" y1="243.15" x2="87.70" y2="243.15" stroke="#444" stroke-width="0.95"/>
<line x1="85.50" y1="241.67" x2="87.70" y2="241.67" stroke="#444" stroke-width="0.95"/>
<line x1="85.50" y1="240.35" x2="90.00" y2="240.35" stroke="#444" stroke-width="0.95"/>
<line x1="85.50" y1="231.67" x2="87.70" y2="231.67" stroke="#444" stroke-width="0.95"/>
<line x1="85.50" y1="226.59" x2="87.70" y2="226.59" stroke="#444" stroke-width="0.95"/>
<line x1="85.50" y1="222.98" x2="87.70" y2="222.98" stroke="#444" stroke-width="0.95"/>
<line x1="85.50" y1="220.18" x2="87.70" y2="220.18" stroke="#444" stroke-width="0.95"/>
<line x1="85.50" y1="217.90" x2="87.70" y2="217.90" stroke="#444" stroke-width="0.95"/>
<line x1="85.50" y1="215.97" x2="87.70" y2="215.97" stroke="#444" stroke-width="0.95"/>
<line x1="85.50" y1="214.30" x2="87.70" y2="214.30" stroke="#444" stroke-width="0.95"/>
<line x1="85.50" y1="212.82" x2="87.70" y2="212.82" stroke="#444" stroke-width="0.95"/>
<line x1="85.50" y1="211.50" x2="90.00" y2="211.50" stroke="#444" stroke-width="0.95"/>
<line x1="85.50" y1="202.82" x2="87.70" y2="202.82" stroke="#444" stroke-width="0.95"/>
<line x1="85.50" y1="197.74" x2="87.70" y2="197.74" stroke="#444" stroke-width="0.95"/>
<line x1="85.50" y1="194.13" x2="87.70" y2="194.13" stroke="#444" stroke-width="0.95"/>
<line x1="85.50" y1="191.33" x2="87.70" y2="191.33" stroke="#444" stroke-width="0.95"/>
<line x1="85.50" y1="189.05" x2="87.70" y2="189.05" stroke="#444" stroke-width="0.95"/>
<line x1="85.50" y1="187.12" x2="87.70" y2="187.12" stroke="#444" stroke-width="0.95"/>
<line x1="85.50" y1="185.45" x2="87.70" y2="185.45" stroke="#444" stroke-width="0.95"/>
<line x1="85.50" y1="183.97" x2="87.70" y2="183.97" stroke="#444" stroke-width="0.95"/>
<line x1="85.50" y1="182.65" x2="90.00" y2="182.65" stroke="#444" stroke-width="0.95"/>
<line x1="446.50" y1="182.46" x2="448.70" y2="182.46" stroke="#444" stroke-width="0.95"/>
<line x1="446.50" y1="169.08" x2="448.70" y2="169.08" stroke="#444" stroke-width="0.95"/>
<line x1="446.50" y1="158.70" x2="448.70" y2="158.70" stroke="#444" stroke-width="0.95"/>
<line x1="446.50" y1="150.22" x2="448.70" y2="150.22" stroke="#444" stroke-width="0.95"/>
<line x1="446.50" y1="143.05" x2="448.70" y2="143.05" stroke="#444" stroke-width="0.95"/>
<line x1="446.50" y1="136.84" x2="448.70" y2="136.84" stroke="#444" stroke-width="0.95"/>
<line x1="446.50" y1="131.36" x2="448.70" y2="131.36" stroke="#444" stroke-width="0.95"/>
<line x1="446.50" y1="126.46" x2="451.00" y2="126.46" stroke="#444" stroke-width="0.95"/>
<line x1="446.50" y1="94.22" x2="448.70" y2="94.22" stroke="#444" stroke-width="0.95"/>
<line x1="446.50" y1="75.36" x2="448.70" y2="75.36" stroke="#444" stroke-width="0.95"/>
<line x1="446.50" y1="61.98" x2="448.70" y2="61.98" stroke="#444" stroke-width="0.95"/>
<line x1="446.50" y1="51.60" x2="448.70" y2="51.60" stroke="#444" stroke-width="0.95"/>
<line x1="446.50" y1="43.12" x2="448.70" y2="43.12" stroke="#444" stroke-width="0.95"/>
<line x1="446.50" y1="35.95" x2="448.70" y2="35.95" stroke="#444" stroke-width="0.95"/>
<line x1="446.50" y1="29.74" x2="448.70" y2="29.74" stroke="#444" stroke-width="0.95"/>
<line x1="446.50" y1="24.26" x2="448.70" y2="24.26" stroke="#444" stroke-width="0.95"/>
<line x1="446.50" y1="19.36" x2="451.00" y2="19.36" stroke="#444" stroke-width="0.95"/>
<line x1="446.50" y1="338.69" x2="451.00" y2="338.69" stroke="#444" stroke-width="0.95"/>
<line x1="446.50" y1="324.44" x2="448.70" y2="324.44" stroke="#444" stroke-width="0.95"/>
<line x1="446.50" y1="316.11" x2="448.70" y2="316.11" stroke="#444" stroke-width="0.95"/>
<line x1="446.50" y1="310.19" x2="448.70" y2="310.19" stroke="#444" stroke-width="0.95"/>
<line x1="446.50" y1="305.61" x2="448.70" y2="305.61" stroke="#444" stroke-width="0.95"/>
<line x1="446.50" y1="301.86" x2="448.70" y2="301.86" stroke="#444" stroke-width="0.95"/>
<line x1="446.50" y1="298.69" x2="448.70" y2="298.69" stroke="#444" stroke-width="0.95"/>
<line x1="446.50" y1="295.95" x2="448.70" y2="295.95" stroke="#444" stroke-width="0.95"/>
<line x1="446.50" y1="293.53" x2="448.70" y2="293.53" stroke="#444" stroke-width="0.95"/>
<line x1="446.50" y1="291.36" x2="451.00" y2="291.36" stroke="#444" stroke-width="0.95"/>
<line x1="446.50" y1="277.11" x2="448.70" y2="277.11" stroke="#444" stroke-width="0.95"/>
<line x1="446.50" y1="268.78" x2="448.70" y2="268.78" stroke="#444" stroke-width="0.95"/>
<line x1="446.50" y1="262.86" x2="448.70" y2="262.86" stroke="#444" stroke-width="0.95"/>
<line x1="446.50" y1="258.28" x2="448.70" y2="258.28" stroke="#444" stroke-width="0.95"/>
<line x1="446.50" y1="254.53" x2="448.70" y2="254.53" stroke="#444" stroke-width="0.95"/>
<line x1="446.50" y1="251.36" x2="448.70" y2="251.36" stroke="#444" stroke-width="0.95"/>
<line x1="446.50" y1="248.62" x2="448.70" y2="248.62" stroke="#444" stroke-width="0.95"/>
<line x1="446.50" y1="246.20" x2="448.70" y2="246.20" stroke="#444" stroke-width="0.95"/>
<line x1="446.50" y1="244.03" x2="451.00" y2="244.03" stroke="#444" stroke-width="0.95"/>
<line x1="446.50" y1="229.78" x2="448.70" y2="229.78" stroke="#444" stroke-width="0.95"/>
<line x1="446.50" y1="221.45" x2="448.70" y2="221.45" stroke="#444" stroke-width="0.95"/>
<line x1="446.50" y1="215.53" x2="448.70" y2="215.53" stroke="#444" stroke-width="0.95"/>
<line x1="446.50" y1="210.95" x2="448.70" y2="210.95" stroke="#444" stroke-width="0.95"/>
<line x1="446.50" y1="207.20" x2="448.70" y2="207.20" stroke="#444" stroke-width="0.95"/>
<line x1="446.50" y1="204.03" x2="448.70" y2="204.03" stroke="#444" stroke-width="0.95"/>
<line x1="446.50" y1="201.29" x2="448.70" y2="201.29" stroke="#444" stroke-width="0.95"/>
<line x1="446.50" y1="198.87" x2="448.70" y2="198.87" stroke="#444" stroke-width="0.95"/>
<line x1="446.50" y1="196.70" x2="451.00" y2="196.70" stroke="#444" stroke-width="0.95"/>
<line x1="446.50" y1="182.45" x2="448.70" y2="182.45" stroke="#444" stroke-width="0.95"/>
<circle cx="183.20" cy="137.00" r="2.60" fill="none" stroke="#ff8000" stroke-width="1.1"/>
<line x1="180.60" y1="137.00" x2="185.80" y2="137.00" stroke="#ff8000" stroke-width="0.8"/>
<line x1="185.20" y1="134.20" x2="191.38" y2="128.07" stroke="#ff8000" stroke-width="1.1"/>
<polygon points="196.00,123.50 193.21,129.92 189.55,126.23" fill="#ff8000"/>
<circle cx="191.10" cy="151.80" r="2.60" fill="none" stroke="#8b0000" stroke-width="1.1"/>
<line x1="188.50" y1="151.80" x2="193.70" y2="151.80" stroke="#8b0000" stroke-width="0.8"/>
<line x1="193.10" y1="154.60" x2="201.18" y2="161.27" stroke="#8b0000" stroke-width="1.1"/>
<polygon points="206.20,165.40 199.53,163.27 202.84,159.26" fill="#8b0000"/>
<circle cx="177.90" cy="321.70" r="2.60" fill="none" stroke="#ffcc00" stroke-width="1.1"/>
<line x1="175.30" y1="321.70" x2="180.50" y2="321.70" stroke="#ffcc00" stroke-width="0.8"/>
<line x1="180.00" y1="318.50" x2="183.44" y2="313.47" stroke="#ffcc00" stroke-width="1.1"/>
<polygon points="187.10,308.10 185.58,314.93 181.29,312.00" fill="#ffcc00"/>
<circle cx="186.60" cy="333.60" r="2.60" fill="none" stroke="#c0203a" stroke-width="1.1"/>
<line x1="184.00" y1="333.60" x2="189.20" y2="333.60" stroke="#c0203a" stroke-width="0.8"/>
<line x1="188.50" y1="336.20" x2="195.57" y2="341.71" stroke="#c0203a" stroke-width="1.1"/>
<polygon points="200.70,345.70 193.97,343.76 197.17,339.66" fill="#c0203a"/>
<circle cx="504.60" cy="27.10" r="2.60" fill="none" stroke="#0000a0" stroke-width="1.1"/>
<line x1="502.00" y1="27.10" x2="507.20" y2="27.10" stroke="#0000a0" stroke-width="0.8"/>
<line x1="502.20" y1="24.40" x2="495.88" y2="19.62" stroke="#0000a0" stroke-width="1.1"/>
<polygon points="490.70,15.70 497.45,17.55 494.32,21.70" fill="#0000a0"/>
<circle cx="484.10" cy="57.20" r="2.60" fill="none" stroke="#008000" stroke-width="1.1"/>
<line x1="481.50" y1="57.20" x2="486.70" y2="57.20" stroke="#008000" stroke-width="0.8"/>
<line x1="486.40" y1="55.00" x2="494.51" y2="49.87" stroke="#008000" stroke-width="1.1"/>
<polygon points="500.00,46.40 495.90,52.07 493.12,47.68" fill="#008000"/>
<circle cx="465.20" cy="67.10" r="2.60" fill="none" stroke="#ff8000" stroke-width="1.1"/>
<line x1="462.60" y1="67.10" x2="467.80" y2="67.10" stroke="#ff8000" stroke-width="0.8"/>
<line x1="468.30" y1="69.80" x2="474.74" y2="74.48" stroke="#ff8000" stroke-width="1.1"/>
<polygon points="480.00,78.30 473.21,76.58 476.27,72.38" fill="#ff8000"/>
<circle cx="451.80" cy="340.10" r="2.60" fill="none" stroke="#ffcc00" stroke-width="1.1"/>
<line x1="449.20" y1="340.10" x2="454.40" y2="340.10" stroke="#ffcc00" stroke-width="0.8"/>
<line x1="453.80" y1="337.80" x2="463.47" y2="330.66" stroke="#ffcc00" stroke-width="1.1"/>
<polygon points="468.70,326.80 465.01,332.75 461.93,328.57" fill="#ffcc00"/>
<text transform="translate(186.40,119.90) scale(0.9450,1)" font-size="15.20" font-weight="bold" fill="#ff8000" class="s">130 K</text>
<text transform="translate(206.60,169.00) scale(0.9450,1)" font-size="15.20" font-weight="bold" fill="#8b0000" class="s">140 K</text>
<text transform="translate(176.50,304.70) scale(0.9450,1)" font-size="15.20" font-weight="bold" fill="#ffcc00" class="s">123 K</text>
<text transform="translate(202.00,354.90) scale(0.9450,1)" font-size="15.20" font-weight="bold" fill="#c0203a" class="s">133 K</text>
<text transform="translate(462.90,16.90) scale(0.9450,1)" font-size="15.20" font-weight="bold" fill="#0000a0" class="s">77 K</text>
<text transform="translate(501.80,48.30) scale(0.9450,1)" font-size="15.20" font-weight="bold" fill="#008000" class="s">50 K</text>
<text transform="translate(483.00,86.00) scale(0.9450,1)" font-size="15.20" font-weight="bold" fill="#ff8000" class="s">25 K</text>
<text transform="translate(469.70,328.10) scale(0.9450,1)" font-size="15.20" font-weight="bold" fill="#ffcc00" class="s">7 K</text>
<line x1="151.20" y1="9.60" x2="180.50" y2="9.60" stroke="#0000a0" stroke-width="1.25" stroke-opacity="0.88"/>
<text transform="translate(183.40,13.80) scale(0.9850,1)" font-size="12.80" class="s">[SIO<tspan dy="3.4" font-size="8.3">2</tspan><tspan dy="-3.4">/NNO</tspan><tspan dy="3.4" font-size="8.3">2</tspan><tspan dy="-3.4">]</tspan><tspan dy="3.4" font-size="8.3">6</tspan></text>
<line x1="151.20" y1="28.30" x2="180.50" y2="28.30" stroke="#008000" stroke-width="1.25" stroke-opacity="0.88"/>
<text transform="translate(183.40,32.50) scale(0.9850,1)" font-size="12.80" class="s">[SIO<tspan dy="3.4" font-size="8.3">2</tspan><tspan dy="-3.4">/NNO</tspan><tspan dy="3.4" font-size="8.3">4</tspan><tspan dy="-3.4">]</tspan><tspan dy="3.4" font-size="8.3">4</tspan></text>
<line x1="151.20" y1="47.00" x2="180.50" y2="47.00" stroke="#ff8000" stroke-width="1.25" stroke-opacity="0.88"/>
<text transform="translate(183.40,51.20) scale(0.9850,1)" font-size="12.80" class="s">[SIO<tspan dy="3.4" font-size="8.3">2</tspan><tspan dy="-3.4">/NNO</tspan><tspan dy="3.4" font-size="8.3">6</tspan><tspan dy="-3.4">]</tspan><tspan dy="3.4" font-size="8.3">3</tspan></text>
<line x1="151.20" y1="65.60" x2="180.50" y2="65.60" stroke="#8b0000" stroke-width="1.25" stroke-opacity="0.88"/>
<text transform="translate(183.40,69.80) scale(0.9850,1)" font-size="12.80" class="s">[SIO<tspan dy="3.4" font-size="8.3">2</tspan><tspan dy="-3.4">/NNO</tspan><tspan dy="3.4" font-size="8.3">10</tspan><tspan dy="-3.4">]</tspan><tspan dy="3.4" font-size="8.3">2</tspan></text>
<line x1="562.50" y1="108.00" x2="592.00" y2="108.00" stroke="#0000a0" stroke-width="1.25" stroke-opacity="0.88"/>
<text transform="translate(595.40,112.20) scale(0.9850,1)" font-size="12.80" class="s">[SIO<tspan dy="3.4" font-size="8.3">2</tspan><tspan dy="-3.4">/LNO</tspan><tspan dy="3.4" font-size="8.3">2</tspan><tspan dy="-3.4">]</tspan><tspan dy="3.4" font-size="8.3">6</tspan></text>
<line x1="562.50" y1="126.40" x2="592.00" y2="126.40" stroke="#008000" stroke-width="1.25" stroke-opacity="0.88"/>
<text transform="translate(595.40,130.60) scale(0.9850,1)" font-size="12.80" class="s">[SIO<tspan dy="3.4" font-size="8.3">2</tspan><tspan dy="-3.4">/LNO</tspan><tspan dy="3.4" font-size="8.3">4</tspan><tspan dy="-3.4">]</tspan><tspan dy="3.4" font-size="8.3">4</tspan></text>
<line x1="562.50" y1="144.90" x2="592.00" y2="144.90" stroke="#ff8000" stroke-width="1.25" stroke-opacity="0.88"/>
<text transform="translate(595.40,149.10) scale(0.9850,1)" font-size="12.80" class="s">[SIO<tspan dy="3.4" font-size="8.3">2</tspan><tspan dy="-3.4">/LNO</tspan><tspan dy="3.4" font-size="8.3">6</tspan><tspan dy="-3.4">]</tspan><tspan dy="3.4" font-size="8.3">3</tspan></text>
<line x1="562.50" y1="163.30" x2="592.00" y2="163.30" stroke="#8b0000" stroke-width="1.25" stroke-opacity="0.88"/>
<text transform="translate(595.40,167.50) scale(0.9850,1)" font-size="12.80" class="s">[SIO<tspan dy="3.4" font-size="8.3">2</tspan><tspan dy="-3.4">/LNO</tspan><tspan dy="3.4" font-size="8.3">10</tspan><tspan dy="-3.4">]</tspan><tspan dy="3.4" font-size="8.3">2</tspan></text>
<line x1="119.00" y1="217.40" x2="149.30" y2="217.40" stroke="#008080" stroke-width="1.20" stroke-opacity="0.78"/>
<text transform="translate(151.70,221.60) scale(0.9850,1)" font-size="12.80" class="s">NNO<tspan dx="0.6" dy="3.4" font-size="8.3">4</tspan></text>
<line x1="119.00" y1="235.90" x2="149.30" y2="235.90" stroke="#ffcc00" stroke-width="1.20" stroke-opacity="0.78"/>
<text transform="translate(151.70,240.10) scale(0.9850,1)" font-size="12.80" class="s">NNO<tspan dx="0.6" dy="3.4" font-size="8.3">6</tspan></text>
<line x1="119.00" y1="254.50" x2="149.30" y2="254.50" stroke="#c0203a" stroke-width="1.20" stroke-opacity="0.78"/>
<text transform="translate(151.70,258.70) scale(0.9850,1)" font-size="12.80" class="s">NNO<tspan dx="0.6" dy="3.4" font-size="8.3">10</tspan></text>
<line x1="580.10" y1="202.80" x2="609.80" y2="202.80" stroke="#008080" stroke-width="1.20" stroke-opacity="0.78"/>
<text transform="translate(612.50,207.20) scale(0.9850,1)" font-size="12.80" class="s">LNO<tspan dx="0.6" dy="3.4" font-size="8.3">4</tspan></text>
<line x1="580.10" y1="221.40" x2="609.80" y2="221.40" stroke="#ffcc00" stroke-width="1.20" stroke-opacity="0.78"/>
<text transform="translate(612.50,225.80) scale(0.9850,1)" font-size="12.80" class="s">LNO<tspan dx="0.6" dy="3.4" font-size="8.3">6</tspan></text>
<line x1="580.10" y1="239.90" x2="609.80" y2="239.90" stroke="#c0203a" stroke-width="1.20" stroke-opacity="0.78"/>
<text transform="translate(612.50,244.30) scale(0.9850,1)" font-size="12.80" class="s">LNO<tspan dx="0.6" dy="3.4" font-size="8.3">10</tspan></text>
<text transform="translate(74.30,36.15) scale(0.9350,1)" font-size="19.30" text-anchor="end" class="s">10</text>
<text transform="translate(74.10,29.35) scale(0.9350,1)" font-size="14.00" class="s">4</text>
<text transform="translate(74.30,96.82) scale(0.9350,1)" font-size="19.30" text-anchor="end" class="s">10</text>
<text transform="translate(74.10,90.02) scale(0.9350,1)" font-size="14.00" class="s">3</text>
<text transform="translate(74.30,157.49) scale(0.9350,1)" font-size="19.30" text-anchor="end" class="s">10</text>
<text transform="translate(74.10,150.69) scale(0.9350,1)" font-size="14.00" class="s">2</text>
<text transform="translate(74.20,218.70) scale(0.9350,1)" font-size="19.30" text-anchor="end" class="s">10</text>
<text transform="translate(74.00,211.90) scale(0.9350,1)" font-size="14.00" class="s">6</text>
<text transform="translate(74.20,276.40) scale(0.9350,1)" font-size="19.30" text-anchor="end" class="s">10</text>
<text transform="translate(74.00,269.60) scale(0.9350,1)" font-size="14.00" class="s">4</text>
<text transform="translate(74.20,334.10) scale(0.9350,1)" font-size="19.30" text-anchor="end" class="s">10</text>
<text transform="translate(74.00,327.30) scale(0.9350,1)" font-size="14.00" class="s">2</text>
<text transform="translate(435.00,26.36) scale(0.9350,1)" font-size="19.30" text-anchor="end" class="s">10</text>
<text transform="translate(434.80,19.56) scale(0.9350,1)" font-size="14.00" class="s">2</text>
<text transform="translate(435.00,133.46) scale(0.9350,1)" font-size="19.30" text-anchor="end" class="s">10</text>
<text transform="translate(434.80,126.66) scale(0.9350,1)" font-size="14.00" class="s">1</text>
<text transform="translate(432.10,204.30) scale(0.9350,1)" font-size="19.30" text-anchor="end" class="s">10</text>
<text transform="translate(431.90,197.50) scale(0.9350,1)" font-size="14.00" class="s">4</text>
<text transform="translate(432.10,251.63) scale(0.9350,1)" font-size="19.30" text-anchor="end" class="s">10</text>
<text transform="translate(431.90,244.83) scale(0.9350,1)" font-size="14.00" class="s">3</text>
<text transform="translate(432.10,298.96) scale(0.9350,1)" font-size="19.30" text-anchor="end" class="s">10</text>
<text transform="translate(431.90,292.16) scale(0.9350,1)" font-size="14.00" class="s">2</text>
<text transform="translate(432.10,346.29) scale(0.9350,1)" font-size="19.30" text-anchor="end" class="s">10</text>
<text transform="translate(431.90,339.49) scale(0.9350,1)" font-size="14.00" class="s">1</text>
<text transform="translate(85.50,384.00) scale(0.9300,1)" font-size="19.80" text-anchor="middle" class="s">0</text>
<text transform="translate(160.50,384.00) scale(0.9300,1)" font-size="19.80" text-anchor="middle" class="s">100</text>
<text transform="translate(235.50,384.00) scale(0.9300,1)" font-size="19.80" text-anchor="middle" class="s">200</text>
<text transform="translate(310.50,384.00) scale(0.9300,1)" font-size="19.80" text-anchor="middle" class="s">300</text>
<text transform="translate(446.50,383.60) scale(0.9300,1)" font-size="19.80" text-anchor="middle" class="s">0</text>
<text transform="translate(521.50,383.60) scale(0.9300,1)" font-size="19.80" text-anchor="middle" class="s">100</text>
<text transform="translate(596.50,383.60) scale(0.9300,1)" font-size="19.80" text-anchor="middle" class="s">200</text>
<text transform="translate(671.50,383.60) scale(0.9300,1)" font-size="19.80" text-anchor="middle" class="s">300</text>
<text transform="translate(199.45,414.60)" font-size="18.90" text-anchor="middle" font-weight="bold" class="s">Temperature (K)</text>
<text transform="translate(564.30,415.50)" font-size="18.90" text-anchor="middle" font-weight="bold" class="s">Temperature (K)</text>
<text transform="translate(38.60,92.90) rotate(-90)" font-size="18.60" text-anchor="middle" font-weight="bold" class="s">Resistivity (μΩ·cm)</text>
<text transform="translate(37.60,275.70) rotate(-90)" font-size="18.60" text-anchor="middle" font-weight="bold" class="s">Resistivity (μΩ·cm)</text>
<text transform="translate(397.60,89.75) rotate(-90)" font-size="18.60" text-anchor="middle" font-weight="bold" class="s">Resistivity (μΩ·cm)</text>
<text transform="translate(397.60,275.30) rotate(-90)" font-size="18.60" text-anchor="middle" font-weight="bold" class="s">Resistivity (μΩ·cm)</text>
<text transform="translate(0.10,12.60)" font-size="25.80" font-weight="bold" class="s">a</text>
<text transform="translate(0.60,203.80)" font-size="24.50" font-weight="bold" class="s">b</text>
<text transform="translate(360.20,13.00)" font-size="27.00" font-weight="bold" class="s">c</text>
<text transform="translate(360.40,203.60)" font-size="24.50" font-weight="bold" class="s">d</text>
</svg>
</body></html>
